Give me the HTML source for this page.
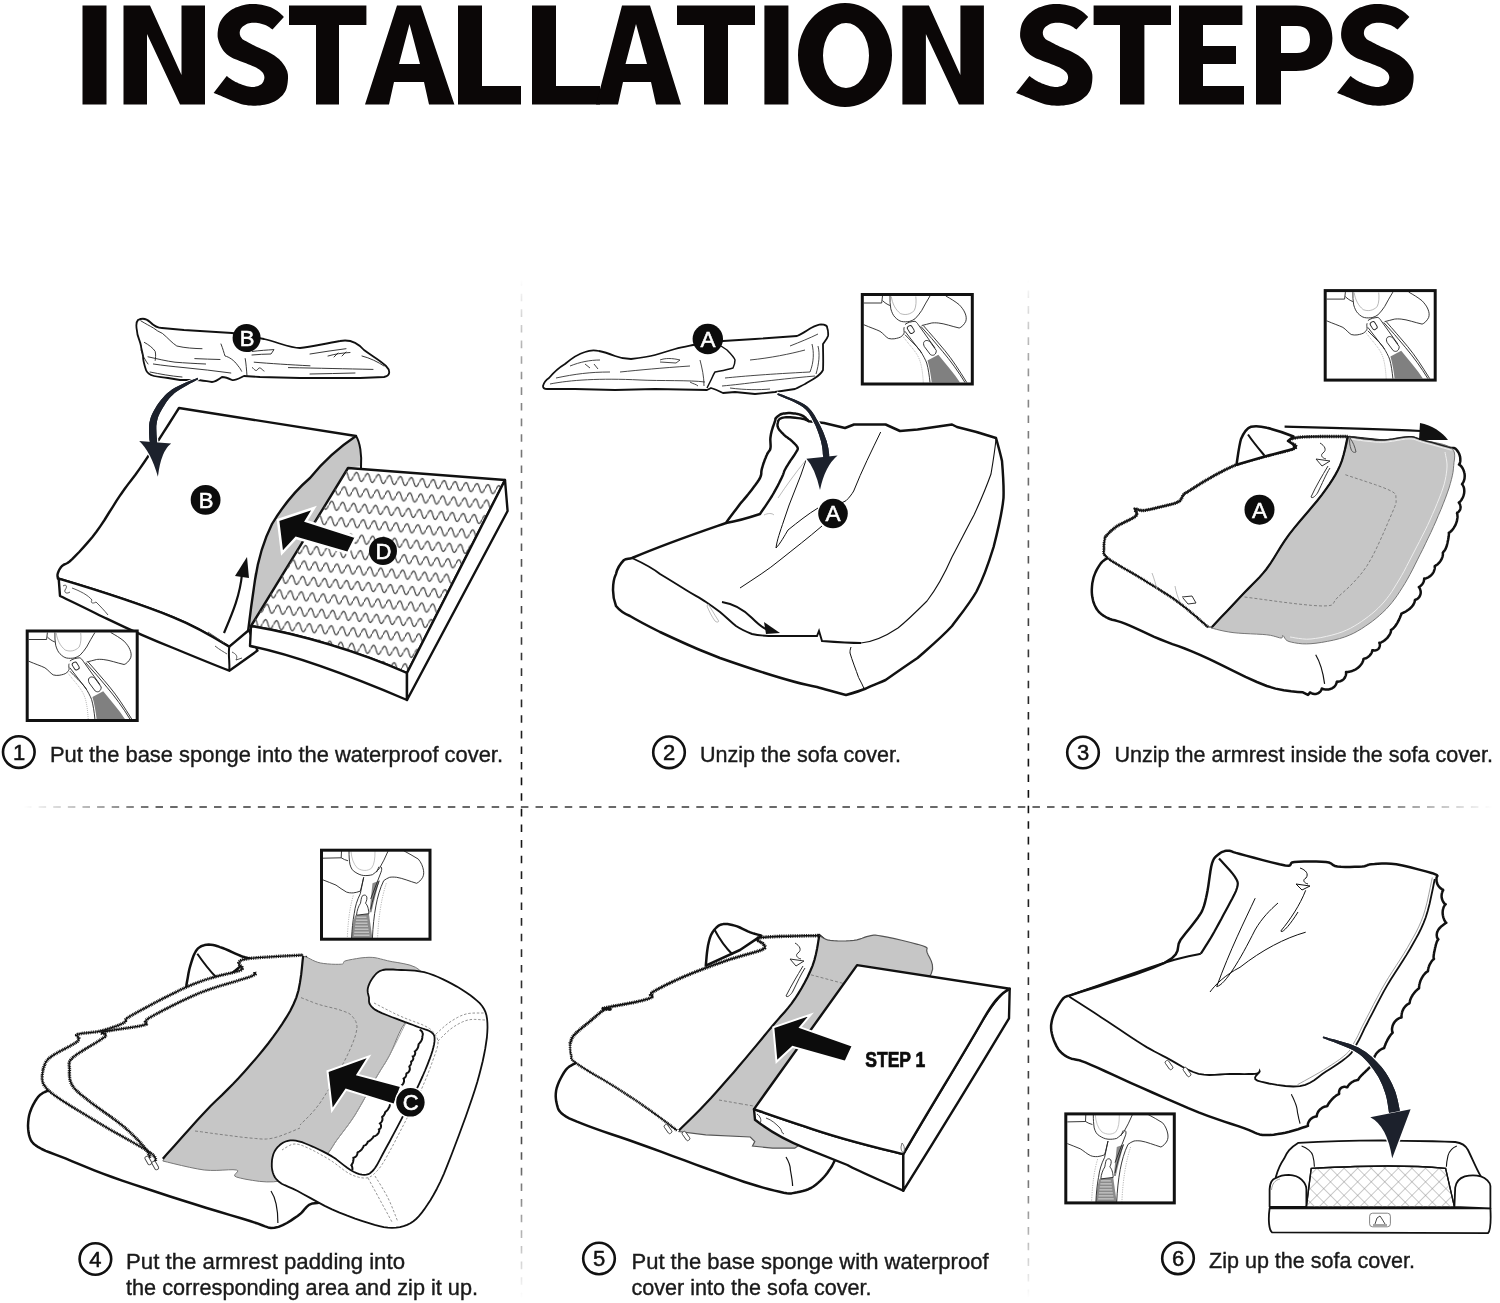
<!DOCTYPE html>
<html><head><meta charset="utf-8"><style>
html,body{margin:0;padding:0;background:#fff;}
body{width:1500px;height:1303px;overflow:hidden;}
svg{display:block;will-change:transform;}
</style></head><body>
<svg width="1500" height="1303" viewBox="0 0 1500 1303">

<defs>
<linearGradient id="gv1" gradientUnits="userSpaceOnUse" x1="0" y1="280" x2="0" y2="1298">
<stop offset="0" stop-color="#000" stop-opacity="0"/><stop offset="0.1" stop-color="#000" stop-opacity="0.45"/>
<stop offset="0.5" stop-color="#000" stop-opacity="0.95"/><stop offset="0.85" stop-color="#000" stop-opacity="0.7"/>
<stop offset="1" stop-color="#000" stop-opacity="0"/></linearGradient>
<linearGradient id="gh" gradientUnits="userSpaceOnUse" x1="24" y1="0" x2="1492" y2="0">
<stop offset="0" stop-color="#222" stop-opacity="0"/><stop offset="0.09" stop-color="#222" stop-opacity="0.9"/>
<stop offset="0.91" stop-color="#222" stop-opacity="0.9"/><stop offset="1" stop-color="#222" stop-opacity="0"/></linearGradient>
</defs>
<line x1="521.5" y1="280" x2="521.5" y2="1298" stroke="url(#gv1)" stroke-width="1.6" stroke-dasharray="7.6 8.01" stroke-dashoffset="1.9"/>
<line x1="1028.4" y1="280" x2="1028.4" y2="1298" stroke="url(#gv1)" stroke-width="1.6" stroke-dasharray="7.6 8.01" stroke-dashoffset="5.1"/>
<line x1="24" y1="807" x2="1492" y2="807" stroke="url(#gh)" stroke-width="1.6" stroke-dasharray="7.5 7.115"/>

<path fill="#0b0707" d="M532 5.5H556V86H600V104.5H532Z"/>
<path fill="#0b0707" fill-rule="evenodd" d="M82.5 5.5H106.5V104.5H82.5Z M123.5 104.5 L123.5 5.5 L150.0 5.5 L181.5 75 L181.5 5.5 L205.0 5.5 L205.0 104.5 L180.0 104.5 L147.0 34 L147.0 104.5Z M289 5.5H366.4V25H339V104.5H316V25H289Z M365 104.5L397 5.5H421L454.4 104.5H429L424 82H394L389 104.5Z M409.5 24L399 64H420Z M458 5.5H482V86H521V104.5H458Z M596 104.5L622 5.5H650L681 104.5H656L651 82H623L618 104.5Z M636 24L625.5 64H647Z M677 5.5H755V25H728V104.5H704V25H677Z M764.4 5.5H788.4V104.5H764.4Z M798 55a47 52 0 1 0 94 0a47 52 0 1 0 -94 0Z M823 55.5a23 32.5 0 1 1 46 0a23 32.5 0 1 1 -46 0Z M902.4 104.5 L902.4 5.5 L928.9 5.5 L960.4 75 L960.4 5.5 L983.9 5.5 L983.9 104.5 L958.9 104.5 L925.9 34 L925.9 104.5Z M1093.6 5.5H1171V25H1144.4V104.5H1120V25H1093.6Z M1179 5.5H1242.4V25H1203V46H1236V64H1203V86H1244V104.5H1179Z M1256 104.5V5.5H1296C1320 5.5 1332.4 20 1332.4 38C1332.4 58 1318 71 1296 71H1281V104.5Z M1281 26V53H1297C1306 53 1310 48 1310 39.5C1310 31 1306 26 1297 26Z"/>
<path fill="#0b0707" d="M283.9,16.9 L272.5,29.6 L271.8,29.1 L270.9,28.4 L269.8,27.6 L268.6,26.8 L267.3,26.0 L265.9,25.3 L264.5,24.8 L262.8,24.2 L261.1,23.8 L259.4,23.3 L257.7,23.0 L256.1,22.8 L254.6,22.7 L253.2,22.7 L251.8,22.8 L250.5,23.0 L249.2,23.3 L247.9,23.6 L246.7,24.1 L245.5,24.7 L244.3,25.4 L243.1,26.2 L242.2,27.0 L241.4,27.9 L240.8,28.8 L240.3,29.7 L240.0,30.8 L239.8,31.8 L239.7,32.8 L239.8,33.8 L239.9,34.7 L240.2,35.6 L240.5,36.5 L241.0,37.3 L241.6,38.1 L242.2,38.9 L242.9,39.5 L243.7,40.0 L244.6,40.5 L245.6,41.0 L246.7,41.6 L247.9,42.2 L249.3,43.0 L250.8,43.8 L252.5,44.7 L254.2,45.5 L256.0,46.4 L257.7,47.3 L259.6,48.1 L261.5,48.9 L263.5,49.7 L265.4,50.6 L267.4,51.4 L269.2,52.4 L271.0,53.4 L272.7,54.4 L274.4,55.5 L276.0,56.7 L277.6,57.9 L279.0,59.1 L280.3,60.4 L281.6,61.8 L282.7,63.2 L283.8,64.7 L284.7,66.1 L285.5,67.6 L286.2,68.9 L286.8,70.2 L287.3,71.5 L287.6,72.9 L287.9,74.4 L288.0,76.0 L288.0,77.9 L287.9,80.1 L287.7,82.3 L287.4,84.6 L286.9,86.8 L286.4,88.7 L285.7,90.4 L284.9,91.9 L284.0,93.3 L283.0,94.7 L281.9,95.9 L280.6,97.1 L279.3,98.3 L277.8,99.4 L276.2,100.5 L274.5,101.4 L272.7,102.3 L270.8,103.0 L268.8,103.7 L266.7,104.3 L264.5,104.7 L262.3,105.1 L260.0,105.4 L257.7,105.6 L255.5,105.7 L253.1,105.7 L250.7,105.6 L248.4,105.4 L246.1,105.1 L243.8,104.7 L241.7,104.2 L239.5,103.6 L237.5,102.8 L235.4,102.0 L233.5,101.2 L231.6,100.5 L229.8,99.8 L228.1,99.1 L226.4,98.3 L224.8,97.6 L223.3,96.9 L221.8,96.3 L220.2,95.6 L218.6,95.0 L217.1,94.3 L215.7,93.7 L214.5,93.3 L213.6,92.9 L226.7,76.0 L227.5,76.6 L228.5,77.4 L229.7,78.3 L231.1,79.3 L232.6,80.2 L234.0,81.1 L235.5,81.9 L237.2,82.6 L238.8,83.4 L240.5,84.1 L242.2,84.8 L243.8,85.3 L245.4,85.8 L246.9,86.2 L248.4,86.6 L249.9,86.8 L251.4,87.0 L252.8,87.0 L254.3,86.9 L255.8,86.6 L257.3,86.2 L258.7,85.7 L259.9,85.1 L261.0,84.5 L261.9,83.7 L262.6,82.7 L263.3,81.7 L263.7,80.6 L264.1,79.6 L264.3,78.5 L264.4,77.6 L264.3,76.5 L264.1,75.5 L263.7,74.5 L263.3,73.6 L262.6,72.6 L261.9,71.7 L261.0,70.9 L260.0,70.0 L258.9,69.2 L257.6,68.4 L256.1,67.6 L254.4,66.7 L252.4,65.9 L250.3,65.0 L248.1,64.2 L246.0,63.3 L243.8,62.5 L241.8,61.7 L239.6,60.9 L237.5,60.1 L235.4,59.2 L233.4,58.4 L231.6,57.4 L229.9,56.4 L228.4,55.4 L227.0,54.4 L225.7,53.2 L224.5,52.0 L223.4,50.7 L222.4,49.2 L221.4,47.5 L220.5,45.7 L219.7,43.9 L219.0,42.2 L218.5,40.5 L218.1,39.1 L217.8,37.7 L217.6,36.3 L217.6,35.0 L217.6,33.6 L217.7,32.1 L217.9,30.5 L218.1,28.8 L218.5,27.0 L218.9,25.3 L219.5,23.6 L220.1,22.0 L221.0,20.4 L221.9,18.9 L223.0,17.5 L224.2,16.1 L225.4,14.8 L226.7,13.5 L228.0,12.4 L229.4,11.3 L230.8,10.2 L232.3,9.3 L234.0,8.4 L235.7,7.6 L237.6,6.9 L239.6,6.2 L241.8,5.5 L243.9,5.0 L246.0,4.6 L247.9,4.2 L249.7,4.0 L251.3,3.9 L252.9,3.9 L254.4,3.9 L256.0,4.0 L257.7,4.2 L259.6,4.5 L261.6,4.8 L263.6,5.2 L265.6,5.7 L267.5,6.2 L269.2,6.8 L270.8,7.3 L272.2,8.0 L273.6,8.7 L274.9,9.4 L276.1,10.2 L277.4,11.0 L278.6,11.9 L279.9,13.0 L281.1,14.2 L282.3,15.3 L283.2,16.2 L283.9,16.9Z M1088.2,16.9 L1076.4,29.6 L1075.7,29.1 L1074.8,28.4 L1073.7,27.6 L1072.5,26.8 L1071.1,26.0 L1069.7,25.3 L1068.2,24.8 L1066.6,24.2 L1064.8,23.8 L1063.0,23.3 L1061.3,23.0 L1059.7,22.8 L1058.1,22.7 L1056.7,22.7 L1055.2,22.8 L1053.9,23.0 L1052.5,23.3 L1051.3,23.6 L1050.0,24.1 L1048.7,24.7 L1047.5,25.4 L1046.3,26.2 L1045.3,27.0 L1044.5,27.9 L1043.9,28.8 L1043.5,29.7 L1043.1,30.8 L1042.9,31.8 L1042.8,32.8 L1042.9,33.8 L1043.0,34.7 L1043.3,35.6 L1043.6,36.5 L1044.1,37.3 L1044.7,38.1 L1045.4,38.9 L1046.1,39.5 L1046.9,40.0 L1047.8,40.5 L1048.9,41.0 L1050.0,41.6 L1051.3,42.2 L1052.7,43.0 L1054.2,43.8 L1055.9,44.7 L1057.7,45.5 L1059.5,46.4 L1061.3,47.3 L1063.2,48.1 L1065.2,48.9 L1067.2,49.7 L1069.2,50.6 L1071.2,51.4 L1073.1,52.4 L1074.9,53.4 L1076.7,54.4 L1078.4,55.5 L1080.1,56.7 L1081.7,57.9 L1083.2,59.1 L1084.5,60.4 L1085.8,61.8 L1087.0,63.2 L1088.1,64.7 L1089.0,66.1 L1089.9,67.6 L1090.6,68.9 L1091.2,70.2 L1091.7,71.5 L1092.0,72.9 L1092.3,74.4 L1092.4,76.0 L1092.4,77.9 L1092.3,80.1 L1092.1,82.3 L1091.7,84.6 L1091.3,86.8 L1090.7,88.7 L1090.0,90.4 L1089.2,91.9 L1088.3,93.3 L1087.3,94.7 L1086.1,95.9 L1084.8,97.1 L1083.4,98.3 L1081.9,99.4 L1080.3,100.5 L1078.5,101.4 L1076.7,102.3 L1074.8,103.0 L1072.7,103.7 L1070.6,104.3 L1068.3,104.7 L1066.0,105.1 L1063.7,105.4 L1061.3,105.6 L1059.0,105.7 L1056.6,105.7 L1054.1,105.6 L1051.7,105.4 L1049.3,105.1 L1047.1,104.7 L1044.8,104.2 L1042.6,103.6 L1040.5,102.8 L1038.4,102.0 L1036.4,101.2 L1034.5,100.5 L1032.6,99.8 L1030.9,99.1 L1029.2,98.3 L1027.5,97.6 L1025.9,96.9 L1024.4,96.3 L1022.8,95.6 L1021.2,95.0 L1019.6,94.3 L1018.1,93.7 L1016.9,93.3 L1016.0,92.9 L1029.4,76.0 L1030.2,76.6 L1031.3,77.4 L1032.6,78.3 L1034.0,79.3 L1035.5,80.2 L1037.0,81.1 L1038.5,81.9 L1040.2,82.6 L1041.9,83.4 L1043.7,84.1 L1045.4,84.8 L1047.1,85.3 L1048.7,85.8 L1050.2,86.2 L1051.8,86.6 L1053.3,86.8 L1054.8,87.0 L1056.3,87.0 L1057.8,86.9 L1059.3,86.6 L1060.9,86.2 L1062.3,85.7 L1063.6,85.1 L1064.7,84.5 L1065.6,83.7 L1066.4,82.7 L1067.0,81.7 L1067.5,80.6 L1067.8,79.6 L1068.0,78.5 L1068.1,77.6 L1068.0,76.5 L1067.8,75.5 L1067.5,74.5 L1067.0,73.6 L1066.4,72.6 L1065.6,71.7 L1064.7,70.9 L1063.7,70.0 L1062.5,69.2 L1061.2,68.4 L1059.7,67.6 L1057.9,66.7 L1055.9,65.9 L1053.7,65.0 L1051.5,64.2 L1049.2,63.3 L1047.1,62.5 L1044.9,61.7 L1042.7,60.9 L1040.5,60.1 L1038.4,59.2 L1036.3,58.4 L1034.5,57.4 L1032.8,56.4 L1031.2,55.4 L1029.8,54.4 L1028.5,53.2 L1027.2,52.0 L1026.1,50.7 L1025.0,49.2 L1024.0,47.5 L1023.1,45.7 L1022.3,43.9 L1021.6,42.2 L1021.0,40.5 L1020.6,39.1 L1020.3,37.7 L1020.1,36.3 L1020.1,35.0 L1020.1,33.6 L1020.2,32.1 L1020.4,30.5 L1020.6,28.8 L1021.0,27.0 L1021.4,25.3 L1022.0,23.6 L1022.7,22.0 L1023.6,20.4 L1024.5,18.9 L1025.7,17.5 L1026.9,16.1 L1028.1,14.8 L1029.4,13.5 L1030.8,12.4 L1032.2,11.3 L1033.7,10.2 L1035.2,9.3 L1036.9,8.4 L1038.7,7.6 L1040.6,6.9 L1042.7,6.2 L1044.9,5.5 L1047.1,5.0 L1049.3,4.6 L1051.3,4.2 L1053.1,4.0 L1054.7,3.9 L1056.3,3.9 L1057.9,3.9 L1059.6,4.0 L1061.3,4.2 L1063.2,4.5 L1065.2,4.8 L1067.3,5.2 L1069.4,5.7 L1071.3,6.2 L1073.1,6.8 L1074.7,7.3 L1076.2,8.0 L1077.6,8.7 L1078.9,9.4 L1080.2,10.2 L1081.5,11.0 L1082.8,11.9 L1084.1,13.0 L1085.4,14.2 L1086.5,15.3 L1087.5,16.2 L1088.2,16.9Z M1409.4,16.9 L1397.6,29.6 L1396.9,29.1 L1396.0,28.4 L1394.9,27.6 L1393.6,26.8 L1392.3,26.0 L1390.9,25.3 L1389.4,24.8 L1387.7,24.2 L1385.9,23.8 L1384.1,23.3 L1382.4,23.0 L1380.8,22.8 L1379.2,22.7 L1377.8,22.7 L1376.3,22.8 L1375.0,23.0 L1373.6,23.3 L1372.3,23.6 L1371.1,24.1 L1369.8,24.7 L1368.6,25.4 L1367.4,26.2 L1366.4,27.0 L1365.6,27.9 L1365.0,28.8 L1364.5,29.7 L1364.2,30.8 L1364.0,31.8 L1363.9,32.8 L1363.9,33.8 L1364.1,34.7 L1364.3,35.6 L1364.7,36.5 L1365.2,37.3 L1365.8,38.1 L1366.5,38.9 L1367.2,39.5 L1368.0,40.0 L1368.9,40.5 L1369.9,41.0 L1371.1,41.6 L1372.3,42.2 L1373.8,43.0 L1375.3,43.8 L1377.0,44.7 L1378.8,45.5 L1380.6,46.4 L1382.4,47.3 L1384.3,48.1 L1386.3,48.9 L1388.3,49.7 L1390.4,50.6 L1392.3,51.4 L1394.2,52.4 L1396.1,53.4 L1397.8,54.4 L1399.6,55.5 L1401.3,56.7 L1402.9,57.9 L1404.3,59.1 L1405.7,60.4 L1407.0,61.8 L1408.2,63.2 L1409.3,64.7 L1410.2,66.1 L1411.1,67.6 L1411.8,68.9 L1412.4,70.2 L1412.9,71.5 L1413.2,72.9 L1413.5,74.4 L1413.6,76.0 L1413.6,77.9 L1413.5,80.1 L1413.3,82.3 L1412.9,84.6 L1412.5,86.8 L1411.9,88.7 L1411.2,90.4 L1410.4,91.9 L1409.5,93.3 L1408.4,94.7 L1407.3,95.9 L1406.0,97.1 L1404.6,98.3 L1403.1,99.4 L1401.4,100.5 L1399.7,101.4 L1397.8,102.3 L1395.9,103.0 L1393.9,103.7 L1391.7,104.3 L1389.4,104.7 L1387.1,105.1 L1384.8,105.4 L1382.4,105.6 L1380.1,105.7 L1377.7,105.7 L1375.2,105.6 L1372.8,105.4 L1370.4,105.1 L1368.1,104.7 L1365.9,104.2 L1363.7,103.6 L1361.6,102.8 L1359.5,102.0 L1357.5,101.2 L1355.5,100.5 L1353.7,99.8 L1351.9,99.1 L1350.2,98.3 L1348.6,97.6 L1347.0,96.9 L1345.4,96.3 L1343.8,95.6 L1342.2,95.0 L1340.6,94.3 L1339.1,93.7 L1337.9,93.3 L1337.0,92.9 L1350.5,76.0 L1351.3,76.6 L1352.3,77.4 L1353.6,78.3 L1355.0,79.3 L1356.5,80.2 L1358.0,81.1 L1359.6,81.9 L1361.3,82.6 L1363.0,83.4 L1364.7,84.1 L1366.5,84.8 L1368.1,85.3 L1369.7,85.8 L1371.3,86.2 L1372.9,86.6 L1374.4,86.8 L1375.9,87.0 L1377.4,87.0 L1378.9,86.9 L1380.5,86.6 L1382.0,86.2 L1383.4,85.7 L1384.7,85.1 L1385.8,84.5 L1386.7,83.7 L1387.5,82.7 L1388.1,81.7 L1388.6,80.6 L1389.0,79.6 L1389.2,78.5 L1389.3,77.6 L1389.2,76.5 L1389.0,75.5 L1388.6,74.5 L1388.1,73.6 L1387.5,72.6 L1386.7,71.7 L1385.8,70.9 L1384.8,70.0 L1383.6,69.2 L1382.3,68.4 L1380.8,67.6 L1379.0,66.7 L1377.0,65.9 L1374.8,65.0 L1372.6,64.2 L1370.3,63.3 L1368.1,62.5 L1366.0,61.7 L1363.8,60.9 L1361.6,60.1 L1359.4,59.2 L1357.4,58.4 L1355.5,57.4 L1353.8,56.4 L1352.3,55.4 L1350.8,54.4 L1349.5,53.2 L1348.3,52.0 L1347.1,50.7 L1346.0,49.2 L1345.0,47.5 L1344.1,45.7 L1343.3,43.9 L1342.6,42.2 L1342.0,40.5 L1341.6,39.1 L1341.3,37.7 L1341.2,36.3 L1341.1,35.0 L1341.1,33.6 L1341.2,32.1 L1341.4,30.5 L1341.6,28.8 L1342.0,27.0 L1342.5,25.3 L1343.0,23.6 L1343.7,22.0 L1344.6,20.4 L1345.6,18.9 L1346.7,17.5 L1347.9,16.1 L1349.1,14.8 L1350.5,13.5 L1351.8,12.4 L1353.2,11.3 L1354.7,10.2 L1356.3,9.3 L1358.0,8.4 L1359.7,7.6 L1361.7,6.9 L1363.8,6.2 L1366.0,5.5 L1368.2,5.0 L1370.4,4.6 L1372.3,4.2 L1374.2,4.0 L1375.8,3.9 L1377.5,3.9 L1379.1,3.9 L1380.7,4.0 L1382.4,4.2 L1384.4,4.5 L1386.4,4.8 L1388.4,5.2 L1390.5,5.7 L1392.4,6.2 L1394.2,6.8 L1395.8,7.3 L1397.3,8.0 L1398.8,8.7 L1400.1,9.4 L1401.4,10.2 L1402.6,11.0 L1403.9,11.9 L1405.3,13.0 L1406.5,14.2 L1407.7,15.3 L1408.7,16.2 L1409.4,16.9Z"/>

<g font-family="Liberation Sans, sans-serif" font-size="22.8" fill="#1a1a1a" stroke="#1a1a1a" stroke-width="0.4">
<text x="50" y="762" textLength="453" lengthAdjust="spacingAndGlyphs">Put the base sponge into the waterproof cover.</text>
<text x="700" y="762" textLength="201" lengthAdjust="spacingAndGlyphs">Unzip the sofa cover.</text>
<text x="1114.5" y="762" textLength="378.5" lengthAdjust="spacingAndGlyphs">Unzip the armrest inside the sofa cover.</text>
<text x="126" y="1269" textLength="279" lengthAdjust="spacingAndGlyphs">Put the armrest padding into</text>
<text x="126" y="1294.5" textLength="352" lengthAdjust="spacingAndGlyphs">the corresponding area and zip it up.</text>
<text x="631.5" y="1269" textLength="357" lengthAdjust="spacingAndGlyphs">Put the base sponge with waterproof</text>
<text x="631.5" y="1294.5" textLength="240" lengthAdjust="spacingAndGlyphs">cover into the sofa cover.</text>
<text x="1209" y="1268.4" textLength="206" lengthAdjust="spacingAndGlyphs">Zip up the sofa cover.</text>
</g>
<g fill="none" stroke="#111" stroke-width="2.6">
<circle cx="18.8" cy="752.1" r="15.8"/><circle cx="669" cy="752.3" r="15.8"/><circle cx="1083" cy="752.5" r="15.8"/>
<circle cx="95.4" cy="1259" r="15.8"/><circle cx="599" cy="1258.5" r="15.8"/><circle cx="1178" cy="1258.3" r="15.8"/>
</g>
<g font-family="Liberation Sans, sans-serif" font-size="22" fill="#111" stroke="#111" stroke-width="0.5" text-anchor="middle">
<text x="19" y="759.5">1</text><text x="669" y="759.5">2</text><text x="1083" y="760">3</text>
<text x="95.4" y="1266.5">4</text><text x="599" y="1266">5</text><text x="1178" y="1266">6</text>
</g>

<!--PANELS--><defs>
<g id="insetA">
<rect x="0" y="0" width="110" height="89.5" fill="#fff"/>
<g fill="none" stroke="#222" stroke-width="0.9" stroke-linejoin="round">
<path d="M1.45,30.2 C8,33 14,35 17.7,36.8 C21,39 23,42 26,43.9 C28,44.5 30,44.5 31.9,44.3 C35,43.8 38,43 39.4,41.8 C41,40 42,39 41.9,37.7 C41.5,35 41.5,34 41.9,32.7"/>
<path d="M1.45,8.5 L19.4,8.5 L20.2,1.5 M20.2,6 C22,8 25,10 27.7,11"/>
<path d="M27.7,1.5 C27.5,6 27.8,10 28.5,14.3 C29.5,18 31,21 32.7,22.7 C35,25 37,26.5 39.4,27 C42,27.5 44.5,27.3 46.9,27 C49,26.5 51,25.5 52.7,24.3 C55,22 57.5,19 59.4,16 C62,11 65,6 67.7,1.5"/>
<path d="M83.5,1.5 C88,4 93,7 96.9,10.2 C99.5,13 101.5,15.5 102.7,18.5 C104,21.5 104.3,24 103.5,26.8 C102,30 99,33 96.9,33.5 C90,32 82,29 76,28.5 C73,28.2 71,28.3 69.4,28.5 C66,29.3 62,30.5 59.4,31"/>
<path d="M42.7,30 C45,28 49,27 52.7,26.8 C54,27.5 55,28.5 56,30.2 L72.7,53.5 M42.7,36.8 L59.4,58.5"/>
<rect x="46" y="31" width="5" height="8" rx="2" transform="rotate(-32 48.5 35)"/>
<path d="M62,47 C64,45 67,46 69,49 L74,56 C74,60 71,62 68,60 L62,52 C61,50 61,48 62,47 Z"/>
<path d="M42.7,40.2 C48,46 54,51 57.7,56 C61,61 63,65 64.4,68.5 C66,74 67,81 67.7,88"/>
<path d="M58.5,31.8 C66,40 73,48 80.2,56.8 C88,66 96,77 102.7,88 M61,31 C68,39 75,47 82.5,56 C90,65 97,76 104.5,88"/>
</g>
<g fill="none" stroke="#999" stroke-width="0.7">
<path d="M29,2 C30,9 33,15 38,19 C43,21 48,20 52,16 C54,12 54,6 53.5,2"/>
<path d="M40,41 C45,48 50,53 54,59 C58,65 60,72 61,88" stroke-dasharray="1 1"/>
</g>
<path fill="#808080" d="M65.2,66 L76,60.2 C84,70 92,79 97.7,88 L69.4,88 C68.5,80 67,72 65.2,66 Z"/>
<rect x="0" y="0" width="110" height="89.5" fill="none" stroke="#111" stroke-width="3"/>
</g>
<g id="insetB">
<rect x="0" y="0" width="108.5" height="89" fill="#fff"/>
<g fill="none" stroke="#999" stroke-width="0.7" stroke-dasharray="1.2 1.2">
<path d="M31.8,45.3 C28,58 26.5,72 25.8,88"/>
<path d="M64.8,33.1 C60,48 57,66 56.1,88"/>
</g>
<path fill="#8a8a8a" d="M33.6,65.2 L47.4,63.5 L50.9,88 L30.1,88 C30.5,80 31.5,72 33.6,65.2 Z"/>
<path fill="#8a8a8a" d="M51,33 L57.8,30.5 C55,42 52,52 50,62 L48,62 C49,52 50,42 51,33 Z"/>
<g stroke="#eee" stroke-width="0.8">
<path d="M35,67 H45 M34.5,70 H46 M34,73 H46 M33.6,76 H46.5 M33.2,79 H47 M32.8,82 H47.5 M32.4,85 H48"/>
</g>
<g fill="none" stroke="#222" stroke-width="0.9" stroke-linejoin="round">
<path d="M1.5,8 L19.7,7.6 L20,0.5 M19.7,7.6 C22,9 24,10 26.6,10.6"/>
<path d="M27.5,0.5 C27.5,6 27.8,10 28.4,14 C29.5,18 31,20.5 33.6,21.9 C36,23.5 39,25 42.2,25.3 C45,25.5 48,25.3 50.9,24.5 C53,23 55.5,21 57.8,18.4 C61,13 64,7 66.5,1"/>
<path d="M1.5,29.7 C6,31.5 10,33 14.5,34.9 C18,37 21,40 24.9,41.8 C27,42.6 29,42.8 31.8,42.7 C34,42.5 36.5,41.8 38.8,40.9 C40,37 41,32 42.2,27.1"/>
<path d="M82.1,0.5 C87,3 92,6 96.8,8.9 C99.5,12 101.3,16 102,20.1 C102.4,23 102.2,25 101.2,27.1 C99.5,30 97.5,32 95.1,33.1 C88,31 81,28 75.2,27.1 C72.5,26.8 70,26.8 68.2,27.1 C66,28 64,29 62.2,30.5"/>
<path d="M42.2,27.1 L38.8,43.5 M59.6,16.7 C60.5,18 60.3,20 59.5,22 L49.2,48.7 M57.5,16.5 L55,22"/>
<path d="M38.8,43.5 C35.5,50 33.7,56 32.7,63.5 C31.3,71 30.5,79 30.1,88"/>
<path d="M62.2,30.5 C58.5,38 56,47 54.4,55.7 C52.5,66 51.5,76 50.9,88"/>
<path d="M57.8,30.5 C54,40 51,50 49.2,59.1"/>
<path d="M40.5,46.1 C42,44.5 44,44.5 45,46 C46,48 45,51 44,53 C46,55 47,58 47.4,63.5 L35,65 C35.5,60 37,56 39,53 C39.5,50 39.8,48 40.5,46.1 Z"/>
</g>
<path fill="none" stroke="#aaa" stroke-width="0.7" d="M29.5,1 C30,8 32,14 36,18 C41,21 46,21 50,18 C53,14 53.5,8 53.5,1"/>
<rect x="0" y="0" width="108.5" height="89" fill="none" stroke="#111" stroke-width="3"/>
</g>
</defs>
<g id="p1">
<!-- crumpled cover -->
<path fill="#fff" stroke="#111" stroke-width="1.8" stroke-linejoin="round" d="M138,320 C142,318 146,318 150,322 C154,326 157,328 162,328 L184,330 L232,333 L264,339 C280,343 290,348 300,348 C312,347 322,344 340,341 C350,339 357,342 364,350 C372,356 380,360 386,366 C391,371 390,376 384,377 L360,378 L300,378 L260,377 L244,376 C238,379 235,381 232,380 C228,378 225,377 222,377 C218,380 215,382 212,382 C205,381 200,380 196,380 L180,380 L168,378 C162,377 158,377 154,376 C150,375 147,373 146,370 C144,364 143,360 143,356 C142,350 141,348 141,346 C140,340 137,336 137,331 C136,326 136,322 138,320 Z"/>
<g fill="none" stroke="#222" stroke-width="0.9" stroke-linecap="round">
<path d="M140.8,320.8 C146,324 150,326 153.4,328 C156,330 159,332 162.4,333.4 C168,338 172,343 176.8,346 C185,348 194,348.5 202,348.7"/>
<path d="M144.4,342.4 C149,345 153,348 155.2,351.4 C156,355 155.5,358 155.2,360.4"/>
<path d="M141,350 C143,356 145,360 148,364"/>
<path d="M148,356.8 C158,359 166,361 175,362.2 C185,363 195,363.5 205.6,364"/>
<path d="M153.4,364 C163,365.5 173,366.5 184,367.6 C200,369 215,371 230.8,373"/>
<path d="M194.8,358.6 C203,359 212,359.3 220,359.5"/>
<path d="M150,372 C160,374 170,376 182,377"/>
<path d="M221,344 C223,349 224,353 225,356 C229,357 234,360 238,365.8 C240,368 241,370 241.6,371.2"/>
<path d="M245.2,358.6 C246,363 246.5,369 247,376"/>
<path d="M252.4,351.4 C260,350.5 267,350 274,349.6 L271,354 C265,354 258,354.5 252,355"/>
<path d="M254.2,362.2 C270,363.5 290,364.8 310,365.8"/>
<path d="M310,354 C322,352 334,350.3 346,348.7"/>
<path d="M328,356 C335,354 342,353 350,352.5 M334,357 L338,353 M342,356 L346,352"/>
<path d="M288.4,367.6 C320,368.2 345,368.8 373,369.4"/>
<path d="M310,374 C325,373.7 340,373.4 355,373"/>
<path d="M252.4,367.6 C255,370 256,372 258,369 C260,366 262,370 264,371"/>
<path d="M362,356 C370,358 378,362 384,366"/>
</g>
<!-- gray opening -->
<path fill="#c6c6c6" d="M356,436 C344,444 326,458 310,478 C296,490 284,504 272,524 C264,540 258,560 255,580 C252,600 250,615 248,632 L251,626 L348,468 L361,466 C361,455 360,444 356,436 Z"/>
<!-- cover box -->
<path fill="#fff" stroke="#111" stroke-width="2.4" stroke-linejoin="round" d="M179,408 L356,436 C344,444 326,458 310,478 C296,490 284,504 272,524 C264,540 258,560 255,580 C252,600 250,615 248,632 C244,636 236,642 229.3,646.7 C212,636 195,626 173.3,617.3 C140,604 90,588 58.7,578.7 L57.9,578.5 57.8,577.7 57.6,576.8 57.5,575.8 57.5,574.8 57.7,573.7 58.1,572.5 58.6,571.3 59.2,569.9 60.0,568.6 60.9,567.3 62.0,566.0 63.2,565.1 64.4,564.4 65.9,563.8 67.5,563.0 69.6,561.5 72.2,559.2 75.4,555.9 79.2,552.0 83.4,547.4 87.8,542.4 92.2,537.2 96.4,531.8 100.4,526.1 104.5,520.0 108.5,513.5 112.6,507.1 116.6,500.7 120.6,494.7 124.4,489.3 128.0,484.4 131.6,479.7 135.4,474.7 139.4,469.1 144.0,462.5 149.6,454.1 156.1,444.0 163.0,433.2 169.5,423.0 175.1,414.2 179.0,408.0 Z"/>
<path fill="#fff" stroke="#111" stroke-width="2.4" stroke-linejoin="round" d="M58.7,578.7 L60,596 C75,603 95,613 106.7,618.7 C130,630 150,639 173.3,648 C195,657 212,664 229.3,670.7 L257.5,650.6 L249,630 L229.3,646.7 C212,636 195,626 173.3,617.3 C140,604 90,588 58.7,578.7 Z"/>
<path fill="none" stroke="#111" stroke-width="2" d="M229.3,646.7 C228,655 230,662 229.3,670.7"/>
<path fill="none" stroke="#111" stroke-width="2" d="M356,436 C360,442 362,455 361,468"/>
<g fill="none" stroke="#444" stroke-width="0.9">
<path d="M63,586 C66,584 68,586 65,590 C64,593 67,594 70,592 M72,588 C80,591 88,595 92,600 C90,603 93,604 96,602 C100,606 104,610 108,615 M208,632 C214,636 220,640 224,643 M215,646 C220,650 224,652 227,654 M232,652 C236,654 238,656 236,660 L242,658"/>
</g>
<!-- curved arrow -->
<g fill="#1c212c" stroke="#fff" stroke-width="2.5" paint-order="stroke">
<path d="M197.6,377.8 L195.6,378.7 L192.8,379.8 L189.5,381.1 L185.8,382.6 L182.1,384.2 L178.4,385.9 L174.9,387.7 L172.0,389.5 L169.5,391.4 L167.2,393.3 L165.1,395.3 L163.2,397.4 L161.4,399.5 L159.8,401.6 L158.3,403.6 L156.9,405.6 L155.6,407.7 L154.4,409.7 L153.3,411.7 L152.3,413.7 L151.4,415.8 L150.6,418.0 L150.0,420.3 L149.4,422.8 L149.1,425.6 L149.0,428.6 L149.0,431.7 L149.2,434.9 L149.3,437.8 L149.5,440.5 L149.7,442.6 L149.8,444.2 L157.2,443.8 L157.1,442.1 L157.0,439.9 L156.7,437.3 L156.5,434.4 L156.4,431.5 L156.3,428.7 L156.3,426.0 L156.6,423.8 L156.9,421.8 L157.3,419.9 L157.8,418.1 L158.4,416.3 L159.2,414.5 L160.0,412.7 L161.0,410.9 L162.1,409.0 L163.3,406.9 L164.6,404.9 L165.9,402.8 L167.4,400.8 L168.9,398.8 L170.7,396.8 L172.6,394.9 L174.6,393.1 L177.1,391.2 L180.2,389.2 L183.6,387.2 L187.1,385.2 L190.5,383.3 L193.7,381.7 L196.3,380.2 L198.2,379.2 Z"/>
<path d="M139.2,440.9 L171.2,443.6 Q161,451 157.9,476.7 Q151,452 139.2,440.9 Z"/>
</g>
<path fill="#1c212c" d="M197.6,377.8 L195.6,378.7 L192.8,379.8 L189.5,381.1 L185.8,382.6 L182.1,384.2 L178.4,385.9 L174.9,387.7 L172.0,389.5 L169.5,391.4 L167.2,393.3 L165.1,395.3 L163.2,397.4 L161.4,399.5 L159.8,401.6 L158.3,403.6 L156.9,405.6 L155.6,407.7 L154.4,409.7 L153.3,411.7 L152.3,413.7 L151.4,415.8 L150.6,418.0 L150.0,420.3 L149.4,422.8 L149.1,425.6 L149.0,428.6 L149.0,431.7 L149.2,434.9 L149.3,437.8 L149.5,440.5 L149.7,442.6 L149.8,444.2 L157.2,443.8 L157.1,442.1 L157.0,439.9 L156.7,437.3 L156.5,434.4 L156.4,431.5 L156.3,428.7 L156.3,426.0 L156.6,423.8 L156.9,421.8 L157.3,419.9 L157.8,418.1 L158.4,416.3 L159.2,414.5 L160.0,412.7 L161.0,410.9 L162.1,409.0 L163.3,406.9 L164.6,404.9 L165.9,402.8 L167.4,400.8 L168.9,398.8 L170.7,396.8 L172.6,394.9 L174.6,393.1 L177.1,391.2 L180.2,389.2 L183.6,387.2 L187.1,385.2 L190.5,383.3 L193.7,381.7 L196.3,380.2 L198.2,379.2 Z"/>
<!-- sponge -->
<defs>
<clipPath id="c1sp"><path d="M348,468 L505,480 L407,673 C360,652 300,634 251,626 Z"/></clipPath>
<pattern id="zz1" patternUnits="userSpaceOnUse" width="11" height="15.5" patternTransform="rotate(5.3)">
<path d="M0.00,7.75 L0.55,6.42 L1.10,5.22 L1.65,4.27 L2.20,3.66 L2.75,3.45 L3.30,3.66 L3.85,4.27 L4.40,5.22 L4.95,6.42 L5.50,7.75 L6.05,9.08 L6.60,10.28 L7.15,11.23 L7.70,11.84 L8.25,12.05 L8.80,11.84 L9.35,11.23 L9.90,10.28 L10.45,9.08 L11.00,7.75" fill="none" stroke="#4a4a4a" stroke-width="1.25"/>
</pattern>
</defs>
<path fill="#fff" stroke="#111" stroke-width="2.4" stroke-linejoin="round" d="M348,468 L505,480 L407,673 C360,652 300,634 251,626 Z"/>
<rect x="240" y="460" width="280" height="230" fill="url(#zz1)" clip-path="url(#c1sp)"/>
<path fill="#fff" stroke="#111" stroke-width="2.4" stroke-linejoin="round" d="M251,626 C300,634 360,652 407,673 L407,700 C360,680 300,656 250,646 Z"/>
<path fill="#fff" stroke="#111" stroke-width="2.4" stroke-linejoin="round" d="M505,480 L507.6,511 L407,700 L407,673 Z"/>
<!-- arrow D -->
<path fill="#0c0c0c" stroke="#fff" stroke-width="2.5" stroke-linejoin="miter" d="M278,520 L314,508 L306,521 L356,537 L348,553 L296,538 L282,553 Z"/>
<!-- small up arrow -->
<path fill="none" stroke="#111" stroke-width="2.2" d="M224,633 C232,614 240,596 242,574"/>
<path fill="#111" d="M235,576 L249,578 L247,557 Z"/>
<!-- labels -->
<circle cx="246.6" cy="338" r="14" fill="#0c0c0c"/>
<circle cx="205.6" cy="499.9" r="14.9" fill="#0c0c0c"/>
<circle cx="383" cy="551" r="14" fill="#0c0c0c"/>
<g font-family="Liberation Sans, sans-serif" font-size="22" fill="#fff" stroke="#fff" stroke-width="0.6" text-anchor="middle">
<text x="247" y="345.8">B</text><text x="206" y="507.6">B</text><text x="383.5" y="558.8">D</text>
</g>
<!-- inset -->
<use href="#insetA" x="27.2" y="631"/>
</g>
<g id="p2">
<!-- crumpled cover A -->
<path fill="#fff" stroke="#111" stroke-width="1.8" stroke-linejoin="round" d="M543,386 C544,382 546,380 549,378 C554,372 560,367 565,364 C572,358 578,354 585,352 C590,350 595,350 599,351 C605,352 610,354 615,356 C620,358 626,359 631,359 C640,358 648,357 655,355 C662,353 668,351 675,349 C682,347 688,346 693,345 L723,341 L755,339 L797,336 C802,334 806,331 811,328 C815,326 818,324.5 821,324.4 C825,324.5 827,326 827,327 C828,330 828.5,333 828,336 C827,339 825,341 823,344 C823,352 823.5,362 823,370 C821,374 818,376 815,378 C812,380 808,382 805,384 C801,386 798,388 795,389 C788,390 782,391 775,392 L755,394 L735,392 L723,393 C719,391 715,389 711,388 L707,390 L655,389 L615,390 L575,389 L547,389 C544,389 543,388 543,386 Z"/>
<path fill="#fff" stroke="#111" stroke-width="1.5" stroke-linejoin="round" d="M721,346 L727,350 C731,354 734,357 735,360 C735,364 734,366 733,368 C727,370 720,371 715,372 C713,375 712,378 711,380 L707,388"/>
<g fill="none" stroke="#333" stroke-width="0.9">
<path d="M550,384 C570,380 600,378 640,380 C660,381 690,380 705,382"/>
<path d="M556,378 C575,374 590,372 610,372 M570,366 C580,362 590,360 600,360 M585,364 L590,368 M594,364 L598,369"/>
<path d="M620,372 C640,370 660,368 690,366 M660,360 C665,358 672,358 680,360 L676,363 L660,362"/>
<path d="M700,360 C702,368 704,376 704,386 M690,382 C693,384 696,384 698,386"/>
<path d="M725,378 C745,376 770,374 810,372 M722,386 C745,384 770,380 815,376"/>
<path d="M750,360 C770,358 790,354 805,350 M790,346 C800,342 810,338 818,334"/>
<path d="M812,344 C814,352 814,362 810,372 M818,346 C820,354 819,364 816,374"/>
<path d="M730,388 C745,390 760,390 770,389"/>
</g>
<!-- sofa cover -->
<path fill="#fff" stroke="#111" stroke-width="2.5" stroke-linejoin="round" d="M808.8,421.2 L808.1,420.6 L807.3,419.6 L806.2,418.6 L805.1,417.4 L803.8,416.4 L802.4,415.6 L800.9,415.0 L799.2,414.4 L797.5,414.0 L795.6,413.6 L793.8,413.4 L792.0,413.2 L790.2,413.1 L788.4,413.1 L786.5,413.2 L784.7,413.4 L783.1,413.6 L781.6,414.0 L780.3,414.5 L779.2,415.2 L778.2,415.9 L777.3,416.7 L776.6,417.4 L776.0,418.0 L775.6,418.4 L775.5,418.7 L775.4,418.9 L775.5,419.1 L775.4,419.6 L775.2,420.4 L774.8,421.6 L774.3,423.1 L773.7,424.8 L773.0,426.7 L772.5,428.4 L772.0,430.0 L771.6,431.4 L771.3,432.7 L771.0,433.9 L770.8,435.2 L770.6,436.5 L770.4,438.0 L770.3,439.6 L770.4,441.5 L770.5,443.4 L770.6,445.2 L770.6,446.9 L770.4,448.4 L770.1,449.6 L769.6,450.5 L769.0,451.3 L768.4,452.1 L767.8,453.0 L767.2,454.0 L766.7,455.2 L766.1,456.5 L765.6,457.9 L765.0,459.2 L764.5,460.6 L764.0,462.0 L763.5,463.3 L763.1,464.7 L762.7,466.0 L762.3,467.3 L761.9,468.7 L761.6,470.0 L761.4,471.3 L761.3,472.4 L761.3,473.6 L761.1,474.9 L760.7,476.3 L760.0,478.0 L758.8,480.0 L757.3,482.3 L755.5,484.8 L753.6,487.3 L751.8,489.7 L750.0,492.0 L748.2,494.3 L746.3,496.6 L744.4,498.9 L742.6,501.0 L741.1,502.7 L740.0,504.0 C735,511 730,517 726,523 C700,532 670,542 632,558 C628,559 626,559 624,560 C620,564 617,569 616,574 C613,580 613,585 613,590 C613,596 614,601 616,606 C620,611 625,614 630,616 C640,622 650,627 660,632 C675,639 688,645 700,650 C710,654 715,656 720,658 C760,672 800,684 817,687 C828,690 838,693 846,695 C853,693 860,691 866,688.5 C873,685 879,683 885.6,680 C897,672 907,665 917.5,658 C930,647 942,637 952,626 C961,614 970,603 976.5,591.5 C984,577 989,562 993.6,547 C998,530 1002,514 1003.5,498 C1004,485 1003,473 1002,461 C1000,452 998,445 996,438 C984,434 970,430 957,427 L952,424.5 L917.5,429.5 L900,431 L885.6,424.5 L854,424.5 L845,428 L824,423 L808.8,421.2 Z"/>
<!-- armrest inner loop -->
<path fill="none" stroke="#111" stroke-width="2.4" stroke-linejoin="round" d="M808.8,421.2 L808.2,420.9 L807.4,420.5 L806.5,420.1 L805.4,419.6 L804.0,419.2 L802.4,418.8 L800.4,418.4 L798.0,418.1 L795.3,417.8 L792.6,417.5 L790.1,417.3 L788.0,417.2 L786.2,417.2 L784.7,417.4 L783.2,417.6 L782.0,417.9 L780.9,418.3 L780.0,418.8 L779.2,419.4 L778.7,420.2 L778.2,421.0 L778.0,421.9 L777.8,422.8 L777.6,423.6 L777.5,424.4 L777.5,425.1 L777.5,425.9 L777.7,426.7 L778.0,427.5 L778.4,428.4 L779.0,429.4 L779.8,430.4 L780.8,431.5 L781.8,432.6 L782.9,433.7 L784.0,434.8 L785.2,435.9 L786.6,436.9 L788.0,438.0 L789.4,439.1 L790.8,440.1 L792.0,441.2 L793.2,442.3 L794.3,443.4 L795.4,444.5 L796.4,445.6 L797.1,446.6 L797.6,447.6 L797.8,448.4 L797.8,449.1 L797.5,449.8 L797.2,450.5 L796.6,451.3 L796.0,452.4 L795.2,453.7 L794.2,455.3 L793.0,457.0 L791.8,458.7 L790.6,460.4 L789.6,462.0 L788.7,463.4 L787.8,464.8 L787.0,466.1 L786.2,467.4 L785.5,468.7 L784.8,470.0 L784.2,471.2 L783.9,472.3 L783.5,473.4 L783.1,474.6 L782.5,476.1 L781.6,478.0 L780.4,480.4 L779.0,483.3 L777.4,486.4 L775.6,489.6 L773.8,492.9 L772.0,496.0 L770.0,499.2 L767.7,502.7 L765.4,506.1 L763.2,509.3 L761.3,512.0 L760.0,514.0 C748,518 738,521 726,523"/>
<path fill="none" stroke="#111" stroke-width="1.9" d="M632,558 C645,564 655,570 660,574 C670,580 678,585 686,590 C694,595 700,598 706,602 C712,606 716,609 720,612 C726,617 731,622 736,626 C742,630 747,632 752,634 C760,636 768,636 776,636 L817,636 L819,631 L822,641 C835,642 848,643 861,643"/>
<path fill="none" stroke="#111" stroke-width="1.1" d="M861,643 C873,642 886,636 898,628 C908,620 918,610 927,601 C937,588 945,573 952,557 C960,542 967,528 974,515 C980,502 986,488 991,474 C993,462 995,450 996,439"/>
<g fill="none" stroke="#111" stroke-width="1">

<path d="M851,647 C850,650 850,651 850,653 C852,660 856,670 858.6,677.5 C861,682 863,686 864.7,690"/>
<path d="M880.7,432 C872,450 862,470 853.7,491 C852,494 849,498 846,500.7 C842,503 838,504 834,505.6"/>
<path d="M822,526 C808,538 795,548 780,560 C768,570 755,578 740,588"/>
<path d="M806,460 C800,480 790,500 784,520 C780,532 777,540 776,548 C780,544 785,535 788,530 C798,522 808,514 818,508"/>
</g>
<g fill="none" stroke="#aaa" stroke-width="0.8">
<path d="M778,498 C786,486 796,472 806,460"/>
<path d="M764,515 C768,513 772,513 774,515"/>
<path d="M708,604 C711,608 714,614 718,620 C720,622 717,623 715,621 C712,617 709,611 707,606 Z"/>
</g>
<!-- small arrow -->
<path fill="none" stroke="#111" stroke-width="2" d="M722,602 C735,604 746,612 752,618 C758,624 762,628 768,630"/>
<path fill="#111" d="M764,622 L780,633 L766,634 Z"/>
<!-- curved arrow -->
<g fill="#1c212c" stroke="#fff" stroke-width="2.5" paint-order="stroke">
<path d="M777.3,394.8 L779.4,395.8 L782.3,397.0 L785.8,398.5 L789.6,400.1 L793.5,401.8 L797.2,403.7 L800.5,405.5 L803.1,407.2 L805.2,409.0 L806.9,410.7 L808.4,412.6 L809.7,414.5 L810.9,416.5 L812.0,418.5 L813.1,420.7 L814.2,422.9 L815.4,425.3 L816.4,427.7 L817.4,430.3 L818.4,432.9 L819.3,435.5 L820.0,438.0 L820.8,440.5 L821.3,442.7 L821.8,444.9 L822.2,447.2 L822.5,449.4 L822.7,451.6 L822.8,453.7 L823.0,455.5 L823.1,457.1 L823.2,458.4 L829.6,457.6 L829.4,456.4 L829.2,454.9 L829.0,453.0 L828.7,450.9 L828.4,448.6 L827.9,446.2 L827.3,443.7 L826.7,441.3 L825.8,438.9 L824.9,436.4 L823.9,433.8 L822.8,431.1 L821.6,428.5 L820.4,425.9 L819.1,423.4 L817.8,421.1 L816.5,418.9 L815.3,416.7 L814.0,414.6 L812.6,412.5 L811.1,410.5 L809.3,408.5 L807.3,406.6 L804.9,404.8 L801.9,403.0 L798.4,401.2 L794.5,399.5 L790.5,397.9 L786.6,396.4 L783.1,395.1 L780.1,394.0 L777.9,393.2 Z"/>
<path d="M806.4,458.8 L837.6,455.6 Q825,466 820,490 Q815,468 806.4,458.8 Z"/>
</g>
<path fill="#1c212c" d="M777.3,394.8 L779.4,395.8 L782.3,397.0 L785.8,398.5 L789.6,400.1 L793.5,401.8 L797.2,403.7 L800.5,405.5 L803.1,407.2 L805.2,409.0 L806.9,410.7 L808.4,412.6 L809.7,414.5 L810.9,416.5 L812.0,418.5 L813.1,420.7 L814.2,422.9 L815.4,425.3 L816.4,427.7 L817.4,430.3 L818.4,432.9 L819.3,435.5 L820.0,438.0 L820.8,440.5 L821.3,442.7 L821.8,444.9 L822.2,447.2 L822.5,449.4 L822.7,451.6 L822.8,453.7 L823.0,455.5 L823.1,457.1 L823.2,458.4 L829.6,457.6 L829.4,456.4 L829.2,454.9 L829.0,453.0 L828.7,450.9 L828.4,448.6 L827.9,446.2 L827.3,443.7 L826.7,441.3 L825.8,438.9 L824.9,436.4 L823.9,433.8 L822.8,431.1 L821.6,428.5 L820.4,425.9 L819.1,423.4 L817.8,421.1 L816.5,418.9 L815.3,416.7 L814.0,414.6 L812.6,412.5 L811.1,410.5 L809.3,408.5 L807.3,406.6 L804.9,404.8 L801.9,403.0 L798.4,401.2 L794.5,399.5 L790.5,397.9 L786.6,396.4 L783.1,395.1 L780.1,394.0 L777.9,393.2 Z"/>
<!-- labels -->
<circle cx="707.8" cy="339" r="15.2" fill="#0c0c0c"/>
<circle cx="833" cy="513.5" r="14.8" fill="#0c0c0c"/>
<g font-family="Liberation Sans, sans-serif" font-size="22.5" fill="#fff" stroke="#fff" stroke-width="0.5" text-anchor="middle">
<text x="708" y="347.2">A</text><text x="833" y="521.4">A</text>
</g>
<use href="#insetA" x="862.3" y="294.5"/>
</g>
<g id="p3">
<path fill="#fff" stroke="#111" stroke-width="2.5" stroke-linejoin="round" d="M1453.7,448.0 L1454.7,448.3 1455.4,448.7 1455.9,449.2 1456.4,449.7 1456.8,450.1 1457.2,450.6 1457.6,451.1 1457.9,451.7 1458.3,452.2 1458.6,452.7 1458.9,453.3 1459.1,453.8 1459.3,454.4 1459.6,455.0 1459.7,455.5 1459.9,456.1 1460.0,456.7 1460.2,457.3 1460.2,457.9 1460.3,458.5 1460.3,459.2 1460.3,459.8 1460.3,460.5 1460.3,461.1 1460.2,461.8 1460.0,462.4 1459.9,463.1 1459.6,463.8 1459.0,464.6 1459.8,465.0 1460.4,465.5 1460.9,466.0 1461.4,466.5 1461.8,467.1 1462.2,467.6 1462.5,468.2 1462.8,468.7 1463.1,469.3 1463.4,469.9 1463.6,470.4 1463.8,471.0 1464.0,471.6 1464.2,472.2 1464.3,472.8 1464.5,473.4 1464.6,474.1 1464.6,474.7 1464.7,475.3 1464.7,475.9 1464.7,476.6 1464.6,477.2 1464.6,477.9 1464.5,478.5 1464.4,479.1 1464.2,479.8 1464.0,480.5 1463.8,481.1 1463.5,481.7 1463.2,482.4 1462.8,483.0 1462.3,483.6 1462.0,484.2 1462.6,484.8 1463.0,485.5 1463.3,486.2 1463.6,486.8 1463.8,487.5 1464.0,488.1 1464.1,488.8 1464.2,489.5 1464.2,490.1 1464.3,490.8 1464.3,491.4 1464.2,492.1 1464.2,492.7 1464.1,493.3 1464.0,493.9 1463.8,494.5 1463.7,495.1 1463.5,495.7 1463.3,496.2 1463.1,496.8 1462.9,497.3 1462.6,497.9 1462.3,498.4 1462.0,498.9 1461.7,499.5 1461.4,500.0 1461.0,500.5 1460.6,501.0 1460.1,501.6 1459.6,502.1 1458.8,502.6 1459.3,503.3 1459.7,503.9 1460.0,504.6 1460.3,505.2 1460.4,505.9 1460.5,506.5 1460.6,507.1 1460.5,507.7 1460.4,508.4 1460.3,509.0 1460.1,509.6 1459.8,510.2 1459.4,510.7 1459.0,511.3 1458.5,511.8 1458.0,512.3 1457.2,512.7 1457.0,513.3 1457.2,514.0 1457.4,514.7 1457.4,515.4 1457.5,516.0 1457.5,516.7 1457.5,517.3 1457.4,518.0 1457.3,518.6 1457.2,519.2 1457.1,519.8 1457.0,520.5 1456.9,521.0 1456.7,521.6 1456.5,522.2 1456.3,522.8 1456.1,523.4 1455.9,523.9 1455.6,524.5 1455.4,525.1 1455.1,525.6 1454.8,526.1 1454.5,526.7 1454.2,527.2 1453.9,527.7 1453.6,528.2 1453.2,528.7 1452.8,529.2 1452.5,529.7 1452.1,530.2 1451.6,530.6 1451.2,531.1 1450.7,531.5 1450.2,532.0 1449.6,532.4 1448.8,532.7 1448.9,533.4 1448.9,534.0 1448.9,534.7 1448.8,535.3 1448.8,535.9 1448.7,536.5 1448.6,537.1 1448.5,537.6 1448.4,538.2 1448.3,538.8 1448.2,539.4 1448.1,539.9 1448.0,540.5 1447.8,541.1 1447.7,541.6 1447.6,542.2 1447.5,542.8 1447.4,543.3 1447.2,543.9 1447.1,544.5 1446.9,545.1 1446.8,545.7 1446.6,546.2 1446.4,546.8 1446.2,547.4 1445.9,548.0 1445.7,548.6 1445.4,549.2 1445.1,549.7 1444.7,550.3 1444.4,550.8 1444.0,551.3 1443.6,551.8 1443.1,552.2 1442.8,552.8 1442.9,553.5 1442.9,554.2 1442.9,554.9 1442.8,555.5 1442.6,556.1 1442.5,556.8 1442.3,557.4 1442.1,557.9 1441.8,558.5 1441.6,559.1 1441.3,559.6 1441.0,560.2 1440.7,560.7 1440.3,561.2 1440.0,561.7 1439.6,562.2 1439.2,562.6 1438.8,563.1 1438.3,563.5 1437.9,564.0 1437.4,564.4 1436.9,564.8 1436.4,565.1 1435.8,565.5 1435.1,565.8 1434.7,566.2 1434.8,567.0 1434.8,567.7 1434.7,568.4 1434.6,569.0 1434.4,569.7 1434.2,570.3 1434.0,570.9 1433.8,571.5 1433.5,572.1 1433.2,572.6 1432.8,573.2 1432.5,573.7 1432.1,574.2 1431.7,574.7 1431.2,575.2 1430.7,575.6 1430.3,576.0 1429.8,576.4 1429.2,576.7 1428.7,577.1 1428.2,577.4 1427.6,577.7 1427.0,577.9 1426.4,578.2 1425.8,578.4 1425.1,578.5 1424.2,578.6 1424.1,579.3 1424.1,580.0 1423.9,580.6 1423.8,581.3 1423.6,581.8 1423.4,582.3 1423.1,582.9 1422.8,583.3 1422.6,583.8 1422.2,584.3 1421.9,584.6 1421.5,585.0 1421.1,585.5 1420.7,585.8 1420.2,586.2 1419.6,586.6 1418.8,587.0 1419.4,587.8 1419.8,588.5 1420.1,589.2 1420.3,589.9 1420.5,590.5 1420.6,591.1 1420.7,591.8 1420.7,592.4 1420.7,593.0 1420.6,593.6 1420.5,594.2 1420.3,594.8 1420.1,595.4 1419.8,596.0 1419.5,596.5 1419.2,597.1 1418.7,597.7 1418.2,598.2 1417.7,598.7 1417.0,599.1 1416.3,599.5 1415.3,599.8 1414.8,600.2 1414.8,600.9 1414.7,601.6 1414.5,602.2 1414.3,602.8 1414.0,603.4 1413.7,604.0 1413.4,604.6 1413.0,605.1 1412.7,605.7 1412.2,606.2 1411.9,606.7 1411.4,607.2 1411.0,607.6 1410.5,608.0 1410.1,608.5 1409.6,608.9 1409.1,609.2 1408.6,609.6 1408.1,610.0 1407.6,610.3 1407.1,610.6 1406.6,611.0 1406.1,611.3 1405.6,611.6 1405.1,611.9 1404.6,612.1 1404.0,612.4 1403.5,612.7 1402.9,612.9 1402.3,613.2 1401.7,613.4 1401.3,613.9 1401.2,614.5 1401.0,615.1 1400.7,615.6 1400.5,616.2 1400.3,616.8 1400.1,617.3 1399.9,617.8 1399.6,618.4 1399.4,618.9 1399.1,619.4 1398.9,620.0 1398.6,620.5 1398.3,621.0 1398.1,621.5 1397.8,622.0 1397.5,622.6 1397.2,623.1 1396.9,623.6 1396.6,624.1 1396.2,624.6 1395.9,625.1 1395.6,625.6 1395.2,626.1 1394.8,626.6 1394.4,627.0 1394.0,627.5 1393.6,628.0 1393.2,628.4 1392.7,628.8 1392.2,629.2 1391.7,629.6 1390.9,629.9 1391.0,630.7 1390.9,631.3 1390.8,632.0 1390.6,632.6 1390.3,633.2 1390.1,633.7 1389.8,634.3 1389.5,634.9 1389.1,635.4 1388.8,635.9 1388.4,636.4 1388.1,636.9 1387.7,637.4 1387.3,637.9 1386.8,638.3 1386.4,638.8 1385.9,639.2 1385.5,639.6 1385.0,640.0 1384.5,640.4 1384.0,640.7 1383.5,641.1 1383.0,641.4 1382.5,641.7 1381.9,642.0 1381.4,642.3 1380.8,642.6 1380.1,642.8 1379.3,642.8 1379.8,644.2 1379.9,645.1 1379.8,645.9 1379.6,646.6 1379.4,647.2 1379.2,647.8 1378.9,648.3 1378.5,648.8 1378.1,649.2 1377.6,649.5 1377.0,649.8 1376.4,650.1 1375.8,650.3 1375.1,650.4 1374.2,650.4 1373.3,650.3 1372.3,650.2 1372.3,651.0 1372.1,651.6 1371.8,652.3 1371.6,652.8 1371.3,653.4 1371.0,653.9 1370.6,654.4 1370.2,654.9 1369.8,655.4 1369.4,655.8 1369.0,656.2 1368.5,656.6 1368.0,657.0 1367.5,657.3 1367.0,657.7 1366.5,658.0 1365.9,658.2 1365.3,658.5 1364.6,658.6 1363.9,658.7 1363.4,659.2 1363.3,660.0 1363.2,660.7 1362.9,661.3 1362.6,661.9 1362.4,662.5 1362.0,663.1 1361.7,663.7 1361.3,664.2 1360.9,664.7 1360.5,665.2 1360.1,665.7 1359.7,666.2 1359.2,666.6 1358.8,667.1 1358.3,667.5 1357.8,667.9 1357.3,668.2 1356.8,668.6 1356.3,668.9 1355.8,669.3 1355.2,669.6 1354.7,669.8 1354.1,670.1 1353.6,670.4 1353.0,670.6 1352.4,670.8 1351.9,671.0 1351.3,671.2 1350.7,671.4 1350.1,671.6 1349.5,671.7 1348.8,671.8 1348.2,671.9 1347.5,672.0 1346.8,672.0 1346.0,672.0 1346.1,673.1 1346.1,673.9 1346.0,674.6 1345.8,675.3 1345.6,675.9 1345.4,676.4 1345.1,677.0 1344.9,677.5 1344.6,678.0 1344.2,678.4 1343.9,678.9 1343.5,679.3 1343.1,679.7 1342.6,680.0 1342.1,680.4 1341.5,680.7 1340.9,681.0 1340.3,681.2 1339.6,681.4 1338.9,681.6 1338.0,681.7 1337.0,681.6 1336.7,682.0 1336.6,682.9 1336.3,683.6 1336.1,684.2 1335.7,684.9 1335.3,685.5 1334.9,686.0 1334.4,686.6 1333.9,687.1 1333.3,687.5 1332.7,687.9 1332.1,688.3 1331.5,688.6 1330.8,688.8 1330.2,689.1 1329.5,689.2 1328.9,689.4 1328.2,689.5 1327.6,689.5 1326.9,689.5 1326.3,689.5 1325.7,689.5 1325.1,689.4 1324.4,689.3 1323.8,689.2 1323.1,689.0 1322.4,688.7 1321.8,688.6 1321.5,689.6 1321.1,690.4 1320.7,691.0 1320.2,691.6 1319.7,692.1 1319.2,692.5 1318.7,692.9 1318.2,693.2 1317.6,693.4 1317.1,693.6 1316.5,693.8 1315.9,693.9 1315.3,694.0 1314.6,694.0 1314.0,693.9 1313.3,693.8 1312.6,693.7 1311.9,693.4 1311.2,693.1 1310.4,692.6 1309.8,692.5 1309.4,693.3 1308.9,693.9 1308.5,694.4 1308.0,694.9 L1302.9,692.3 1297.6,691.9 1291.1,691.3 1283.7,690.3 1275.5,688.6 1266.8,686.0 1256.9,682.0 1245.5,676.8 1233.3,670.9 1221.2,664.9 1209.9,659.4 1200.0,654.8 1191.8,651.3 1184.7,648.5 1178.4,646.2 1172.4,644.1 1166.6,641.9 1160.6,639.5 1154.2,636.8 1147.8,633.9 1141.4,630.9 1135.4,628.2 1129.8,625.7 1125.0,623.6 1121.0,622.1 1117.6,621.1 1114.7,620.3 1112.2,619.7 1109.9,619.0 1107.6,618.0 1105.4,616.8 1103.4,615.6 1101.5,614.3 1099.9,612.9 1098.4,611.3 1097.0,609.5 1095.8,607.5 1094.7,605.2 1093.7,602.8 1093.0,600.3 1092.4,597.6 1092.0,595.0 1091.8,592.2 1091.8,589.3 1092.0,586.3 1092.3,583.3 1092.9,580.4 1093.5,577.7 1094.4,575.1 1095.5,572.4 1096.7,569.9 1098.0,567.6 1099.4,565.4 1100.6,563.6 1101.9,562.1 1103.2,560.9 1104.5,559.9 1105.8,559.1 1106.8,558.5 1107.6,558.0 L1349,437 L1451.5,448 Z"/>
<path fill="#c6c6c6" stroke="#777" stroke-width="1" d="M1349.0,436.7 L1351.0,437.0 1353.7,437.3 1356.9,437.8 1360.4,438.2 1363.8,438.7 1367.0,439.0 1369.9,439.3 1372.7,439.6 1375.5,439.9 1378.3,440.0 1381.4,440.1 1384.7,440.0 1388.5,439.6 1392.7,439.0 1397.1,438.2 1401.4,437.5 1405.5,436.9 1409.0,436.7 1411.7,436.8 1413.8,437.1 1415.5,437.6 1417.3,438.3 1419.6,439.1 1422.6,440.0 1426.8,441.0 1432.1,442.0 1437.8,443.1 1443.3,444.4 1448.1,446.1 1451.5,448.0 1453.5,450.3 1454.5,453.0 1454.7,455.9 1454.5,459.0 1454.0,462.3 1453.7,465.6 1453.4,468.9 1453.0,472.3 1452.3,475.8 1451.4,479.6 1450.3,483.6 1449.0,488.0 1447.3,492.9 1445.4,498.2 1443.2,503.8 1440.9,509.6 1438.4,515.3 1436.0,521.0 1433.5,526.6 1430.9,532.4 1428.1,538.1 1425.4,543.8 1422.7,549.4 1420.0,554.7 1417.4,559.9 1414.9,564.9 1412.4,569.9 1409.9,574.6 1407.4,579.2 1404.8,583.6 1402.2,587.8 1399.7,591.7 1397.2,595.5 1394.6,599.1 1391.9,602.6 1389.0,606.0 1386.0,609.3 1382.8,612.4 1379.5,615.4 1376.1,618.3 1372.6,621.1 1369.0,623.7 1365.3,626.2 1361.6,628.7 1357.7,631.0 1353.7,633.2 1349.3,635.2 1344.7,637.0 1339.5,638.6 1333.7,640.1 1327.7,641.3 1321.7,642.4 1316.0,643.2 1311.0,643.7 1306.5,643.9 1302.2,643.8 1298.3,643.4 1294.7,642.8 1291.6,642.2 1289.0,641.5 1287.0,640.6 1285.7,639.5 1284.8,638.2 1284.1,637.0 1283.6,636.1 1283.0,635.5 1282.6,635.5 1282.5,635.9 1282.5,636.6 1282.4,637.3 1282.0,637.8 1281.0,638.0 1279.6,637.8 1277.9,637.3 1275.9,636.7 1273.4,636.0 1270.4,635.3 1266.8,634.8 1262.2,634.4 1256.5,634.1 1250.4,633.8 1244.1,633.5 1238.2,633.1 1233.0,632.6 1228.4,631.9 1224.0,631.1 1219.9,630.2 1216.3,629.3 1213.3,628.5 1211.0,628.0 L1214.5,624.4 1219.3,619.6 1225.0,613.9 1231.3,607.3 1237.9,600.1 1244.5,592.5 1251.4,583.9 1258.9,574.2 1266.8,563.8 1274.6,553.4 1282.1,543.5 1289.0,534.6 1295.3,526.8 1301.4,519.5 1307.2,512.8 1312.5,506.5 1317.5,500.4 1322.0,494.6 1326.0,489.1 1329.4,484.1 1332.5,479.4 1335.2,474.9 1337.7,470.3 1340.0,465.6 1342.1,460.4 1344.0,454.9 1345.6,449.3 1347.0,444.2 1348.1,439.8 1349.0,436.7 Z"/>
<path fill="none" stroke="#eee" stroke-width="1" d="M1445.0,452.0 L1445.3,453.6 1445.7,455.7 1446.2,458.2 1446.7,461.0 1447.0,464.0 1447.0,467.0 1446.8,470.0 1446.4,473.1 1445.9,476.4 1445.2,480.0 1444.3,483.8 1443.0,488.0 1441.4,492.7 1439.4,497.9 1437.2,503.3 1434.9,508.9 1432.4,514.5 1430.0,520.0 1427.5,525.4 1424.9,530.8 1422.1,536.2 1419.4,541.6 1416.6,546.9 1414.0,552.0 1411.4,557.0 1408.9,561.9 1406.4,566.6 1404.0,571.3 1401.5,575.7 1399.0,580.0 1396.5,584.1 1394.1,588.0 1391.8,591.7 1389.3,595.3 1386.7,598.7 1384.0,602.0 1381.1,605.2 1378.1,608.2 1375.0,611.1 1371.8,613.8 1368.4,616.5 1365.0,619.0 1361.5,621.5 1357.9,623.9 1354.2,626.1 1350.4,628.3 1346.3,630.2 1342.0,632.0 1337.2,633.6 1331.9,635.1 1326.4,636.4 1320.9,637.6 1315.7,638.4 1311.0,639.0 1306.7,639.2 1302.5,638.9 1298.6,638.4 1295.1,637.9 1292.2,637.3 1290.0,637.0"/>
<path fill="none" stroke="#222" stroke-width="1.5" d="M1349.0,436.7 L1351.0,437.0 1353.7,437.3 1356.9,437.8 1360.4,438.2 1363.8,438.7 1367.0,439.0 1369.9,439.3 1372.7,439.6 1375.5,439.9 1378.3,440.0 1381.4,440.1 1384.7,440.0 1388.5,439.6 1392.7,439.0 1397.1,438.2 1401.4,437.5 1405.5,436.9 1409.0,436.7 1411.7,436.8 1413.8,437.1 1415.5,437.6 1417.3,438.3 1419.6,439.1 1422.6,440.0 1426.9,441.2 1432.2,442.6 1437.9,444.2 1443.4,445.8 1448.2,447.1 1451.5,448.0"/>
<path fill="none" stroke="#f4f4f4" stroke-width="0.9" transform="translate(0,2.2)" d="M1349.0,436.7 L1351.0,437.0 1353.7,437.3 1356.9,437.8 1360.4,438.2 1363.8,438.7 1367.0,439.0 1369.9,439.3 1372.7,439.6 1375.5,439.9 1378.3,440.0 1381.4,440.1 1384.7,440.0 1388.5,439.6 1392.7,439.0 1397.1,438.2 1401.4,437.5 1405.5,436.9 1409.0,436.7 1411.7,436.8 1413.8,437.1 1415.5,437.6 1417.3,438.3 1419.6,439.1 1422.6,440.0 1426.9,441.2 1432.2,442.6 1437.9,444.2 1443.4,445.8 1448.2,447.1 1451.5,448.0"/>
<path fill="none" stroke="#808080" stroke-width="1" stroke-dasharray="3 2" d="M1244.5,597.0 L1253.6,598.2 1266.9,600.0 1282.2,602.1 1297.9,604.0 1311.7,605.4 1322.0,606.0 1328.1,605.8 1331.4,605.2 1333.0,604.0 1334.0,602.3 1335.3,600.0 1338.0,597.0 1342.1,593.3 1346.9,589.0 1352.0,584.0 1357.2,578.5 1362.3,572.4 1367.0,565.8 1371.6,558.0 1376.2,548.9 1380.7,539.2 1384.9,529.8 1388.5,521.3 1391.4,514.6 1393.4,509.9 1394.8,506.5 1395.7,504.2 1396.1,502.4 1396.1,500.8 1396.0,499.0 1395.9,497.2 1395.9,495.8 1395.6,494.5 1394.5,493.2 1392.5,491.8 1389.0,490.0 1383.3,487.6 1375.4,484.7 1366.4,481.7 1357.6,478.8 1350.0,476.3 1344.7,474.5"/>
<path fill="none" stroke="#111" stroke-width="1.2" d="M1315.7,654.8 C1320,662 1323,672 1324.6,683.8"/>
<path fill="#fff" stroke="#111" stroke-width="1.2" stroke-linejoin="round" d="M1105.0,537.0 L1106.2,535.9 1107.7,534.3 1109.5,532.4 1111.6,530.4 1114.0,528.4 1116.5,526.5 1119.5,524.7 1123.2,522.9 1127.0,521.0 1130.7,519.2 1133.8,517.5 1136.0,516.0 1136.9,514.5 1136.9,513.1 1136.2,511.7 1135.4,510.6 1134.9,509.6 1135.0,509.0 1135.7,508.8 1136.7,509.1 1137.9,509.6 1139.3,510.1 1141.0,510.5 1143.0,510.6 1145.3,510.3 1148.0,509.8 1150.9,509.2 1153.9,508.5 1157.0,507.7 1160.0,507.0 1163.1,506.3 1166.4,505.5 1169.7,504.7 1172.9,503.9 1175.7,503.0 1178.0,502.0 1179.7,500.9 1180.8,499.6 1181.6,498.3 1182.2,497.0 1182.8,495.7 1183.6,494.7 1184.3,494.0 1184.8,493.5 1185.3,493.2 1186.1,492.8 1187.2,492.1 1189.0,491.0 1191.5,489.4 1194.6,487.4 1198.2,485.1 1202.0,482.7 1206.0,480.3 1210.0,478.0 1214.1,475.7 1218.3,473.4 1222.7,471.1 1227.2,468.8 1231.8,466.7 1236.5,464.7 1241.3,463.0 1246.4,461.4 1251.5,460.0 1256.6,458.6 1261.7,457.3 1266.5,456.0 1271.4,454.7 1276.5,453.4 1281.5,452.2 1286.1,451.0 1290.0,450.0 1293.0,449.0 1294.9,448.2 1295.8,447.4 1296.1,446.8 1295.9,446.2 1295.5,445.6 1295.0,445.0 1294.1,444.3 1292.6,443.7 1290.8,443.0 1289.1,442.3 1288.1,441.7 1288.0,441.0 1288.8,440.3 1289.9,439.5 1291.7,438.8 1294.2,438.1 1297.6,437.5 1302.0,437.0 1308.3,436.7 1316.6,436.6 1325.7,436.5 1334.7,436.5 1342.4,436.5 1347.7,436.5 L1347.0,439.7 1346.1,444.0 1345.0,449.2 1343.6,454.8 1342.0,460.4 1340.0,465.6 1337.8,470.3 1335.3,474.9 1332.6,479.4 1329.5,484.1 1326.0,489.1 1322.0,494.6 1317.2,500.7 1311.7,507.3 1305.8,514.3 1299.8,521.3 1294.1,528.1 1289.0,534.6 1284.6,540.8 1280.7,546.9 1277.1,552.8 1273.6,558.5 1270.1,564.0 1266.5,569.0 1262.9,573.4 1259.5,577.2 1256.1,580.7 1252.6,584.3 1248.8,588.1 1244.5,592.5 1239.3,598.0 1233.2,604.5 1226.9,611.2 1220.8,617.6 1215.7,623.1 1212.0,627.0 L1208.0,627.0 1204.8,624.3 1200.4,620.4 1195.2,615.9 1189.5,611.1 1183.6,606.3 1178.0,602.0 1172.5,598.1 1166.7,594.3 1160.8,590.5 1154.9,586.8 1148.9,583.2 1143.0,579.5 1136.8,575.7 1130.1,571.8 1123.3,568.0 1117.1,564.3 1111.7,560.9 1107.6,558.0 1105.1,555.7 1103.9,553.9 1103.5,552.3 1103.7,551.0 1104.0,549.6 1104.0,548.0 1103.9,546.1 1104.0,544.0 1104.3,541.9 1104.6,539.9 1104.8,538.2 1105.0,537.0 Z"/>
<path fill="none" stroke="#111" stroke-width="2.2" d="M1347.7,436.5 L1347.0,439.7 1346.1,444.0 1345.0,449.2 1343.6,454.8 1342.0,460.4 1340.0,465.6 1337.8,470.3 1335.3,474.9 1332.6,479.4 1329.5,484.1 1326.0,489.1 1322.0,494.6 1317.2,500.7 1311.7,507.3 1305.8,514.3 1299.8,521.3 1294.1,528.1 1289.0,534.6 1284.6,540.8 1280.7,546.9 1277.1,552.8 1273.6,558.5 1270.1,564.0 1266.5,569.0 1262.9,573.4 1259.5,577.2 1256.1,580.7 1252.6,584.3 1248.8,588.1 1244.5,592.5 1239.3,598.0 1233.2,604.5 1226.9,611.2 1220.8,617.6 1215.7,623.1 1212.0,627.0"/>
<path fill="none" stroke="#222" stroke-width="2" d="M1105.0,537.0 L1106.2,535.9 1107.7,534.3 1109.5,532.4 1111.6,530.4 1114.0,528.4 1116.5,526.5 1119.5,524.7 1123.2,522.9 1127.0,521.0 1130.7,519.2 1133.8,517.5 1136.0,516.0 1136.9,514.5 1136.9,513.1 1136.2,511.7 1135.4,510.6 1134.9,509.6 1135.0,509.0 1135.7,508.8 1136.7,509.1 1137.9,509.6 1139.3,510.1 1141.0,510.5 1143.0,510.6 1145.3,510.3 1148.0,509.8 1150.9,509.2 1153.9,508.5 1157.0,507.7 1160.0,507.0 1163.1,506.3 1166.4,505.5 1169.7,504.7 1172.9,503.9 1175.7,503.0 1178.0,502.0 1179.7,500.9 1180.8,499.6 1181.6,498.3 1182.2,497.0 1182.8,495.7 1183.6,494.7 1184.3,494.0 1184.8,493.5 1185.3,493.2 1186.1,492.8 1187.2,492.1 1189.0,491.0 1191.5,489.4 1194.6,487.4 1198.2,485.1 1202.0,482.7 1206.0,480.3 1210.0,478.0 1214.1,475.7 1218.3,473.4 1222.7,471.1 1227.2,468.8 1231.8,466.7 1236.5,464.7 1241.3,463.0 1246.4,461.4 1251.5,460.0 1256.6,458.6 1261.7,457.3 1266.5,456.0 1271.4,454.7 1276.5,453.4 1281.5,452.2 1286.1,451.0 1290.0,450.0 1293.0,449.0 1294.9,448.2 1295.8,447.4 1296.1,446.8 1295.9,446.2 1295.5,445.6 1295.0,445.0 1294.1,444.3 1292.6,443.7 1290.8,443.0 1289.1,442.3 1288.1,441.7 1288.0,441.0 1288.8,440.3 1289.9,439.5 1291.7,438.8 1294.2,438.1 1297.6,437.5 1302.0,437.0 1308.3,436.7 1316.6,436.6 1325.7,436.5 1334.7,436.5 1342.4,436.5 1347.7,436.5"/>
<path fill="none" stroke="#111" stroke-width="3.4" stroke-dasharray="0.9 0.9" d="M1105.0,537.0 L1106.2,535.9 1107.7,534.3 1109.5,532.4 1111.6,530.4 1114.0,528.4 1116.5,526.5 1119.5,524.7 1123.2,522.9 1127.0,521.0 1130.7,519.2 1133.8,517.5 1136.0,516.0 1136.9,514.5 1136.9,513.1 1136.2,511.7 1135.4,510.6 1134.9,509.6 1135.0,509.0 1135.7,508.8 1136.7,509.1 1137.9,509.6 1139.3,510.1 1141.0,510.5 1143.0,510.6 1145.3,510.3 1148.0,509.8 1150.9,509.2 1153.9,508.5 1157.0,507.7 1160.0,507.0 1163.1,506.3 1166.4,505.5 1169.7,504.7 1172.9,503.9 1175.7,503.0 1178.0,502.0 1179.7,500.9 1180.8,499.6 1181.6,498.3 1182.2,497.0 1182.8,495.7 1183.6,494.7 1184.3,494.0 1184.8,493.5 1185.3,493.2 1186.1,492.8 1187.2,492.1 1189.0,491.0 1191.5,489.4 1194.6,487.4 1198.2,485.1 1202.0,482.7 1206.0,480.3 1210.0,478.0 1214.1,475.7 1218.3,473.4 1222.7,471.1 1227.2,468.8 1231.8,466.7 1236.5,464.7 1241.3,463.0 1246.4,461.4 1251.5,460.0 1256.6,458.6 1261.7,457.3 1266.5,456.0 1271.4,454.7 1276.5,453.4 1281.5,452.2 1286.1,451.0 1290.0,450.0 1293.0,449.0 1294.9,448.2 1295.8,447.4 1296.1,446.8 1295.9,446.2 1295.5,445.6 1295.0,445.0 1294.1,444.3 1292.6,443.7 1290.8,443.0 1289.1,442.3 1288.1,441.7 1288.0,441.0 1288.8,440.3 1289.9,439.5 1291.7,438.8 1294.2,438.1 1297.6,437.5 1302.0,437.0 1308.3,436.7 1316.6,436.6 1325.7,436.5 1334.7,436.5 1342.4,436.5 1347.7,436.5"/>
<path fill="none" stroke="#111" stroke-width="1.2" d="M1208.0,627.0 L1204.8,624.3 1200.4,620.4 1195.2,615.9 1189.5,611.1 1183.6,606.3 1178.0,602.0 1172.5,598.1 1166.7,594.3 1160.8,590.5 1154.9,586.8 1148.9,583.2 1143.0,579.5 1136.8,575.7 1130.1,571.8 1123.3,568.0 1117.1,564.3 1111.7,560.9 1107.6,558.0 1105.1,555.7 1103.9,553.9 1103.5,552.3 1103.7,551.0 1104.0,549.6 1104.0,548.0 1103.9,546.1 1104.0,544.0 1104.3,541.9 1104.6,539.9 1104.8,538.2 1105.0,537.0"/>
<path fill="none" stroke="#111" stroke-width="3" stroke-dasharray="0.9 0.9" d="M1208.0,627.0 L1204.8,624.3 1200.4,620.4 1195.2,615.9 1189.5,611.1 1183.6,606.3 1178.0,602.0 1172.5,598.1 1166.7,594.3 1160.8,590.5 1154.9,586.8 1148.9,583.2 1143.0,579.5 1136.8,575.7 1130.1,571.8 1123.3,568.0 1117.1,564.3 1111.7,560.9 1107.6,558.0 1105.1,555.7 1103.9,553.9 1103.5,552.3 1103.7,551.0 1104.0,549.6 1104.0,548.0 1103.9,546.1 1104.0,544.0 1104.3,541.9 1104.6,539.9 1104.8,538.2 1105.0,537.0"/>
<!-- armrest loop -->
<path fill="#fff" stroke="#111" stroke-width="2.5" stroke-linejoin="round" d="M1236.5,464.7 C1238,455 1239,446 1241,439 C1244,432 1247,428 1251,426.7 C1257,425.5 1262,426.5 1266.8,427.8 C1276,430 1285,433 1293.5,436.5 L1288,441 C1293,444 1296,446 1293,449 C1285,451 1275,454 1266.5,456 C1256,459 1246,462 1236.5,464.7 Z"/>
<path fill="none" stroke="#111" stroke-width="2" d="M1248,434.5 C1253,442 1259,449 1264.5,455.6"/>
<!-- flap fold details -->
<g fill="none" stroke="#333" stroke-width="1">
<path d="M1320,443 C1325,446 1327,450 1323,453 C1320,455 1322,458 1326,459 M1316,459 L1330,461 L1322,466 Z"/>
<path d="M1328,466 C1322,476 1316,486 1311,497 C1312,499 1316,496 1318,492 C1322,484 1326,474 1330,468"/>
<path d="M1182,597 L1192,596 L1196,603 L1188,604 L1183,598"/>
</g>
<g fill="none" stroke="#aaa" stroke-width="0.8">
<path d="M1152,573 C1154,578 1156,585 1157,590 M1175,586 C1176,592 1178,598 1180,602"/>
</g>
<!-- zipper puller -->
<path fill="none" stroke="#555" stroke-width="1" d="M1350,438 C1353,442 1355,447 1356,452 C1354,453 1352,452 1351,449 C1350,446 1349,442 1350,438 Z"/>
<!-- arrow -->
<path fill="none" stroke="#111" stroke-width="2.2" d="M1284.6,426.7 C1320,427.5 1370,428.5 1421,431"/>
<path fill="#111" d="M1420,423 C1432,425 1442,432 1448,440 L1419,440 Z"/>
<circle cx="1259.5" cy="509.7" r="15" fill="#0c0c0c"/>
<text x="1259.5" y="517.7" font-family="Liberation Sans, sans-serif" font-size="22.5" fill="#fff" stroke="#fff" stroke-width="0.5" text-anchor="middle">A</text>
<use href="#insetA" x="1325.2" y="290.6"/>
</g>
<g id="p4">
<path fill="#fff" stroke="#111" stroke-width="2.5" stroke-linejoin="round" d="M50.0,1089.7 L48.7,1090.3 46.9,1091.1 44.8,1092.0 42.5,1093.2 40.3,1094.7 38.4,1096.6 36.6,1099.0 34.8,1101.8 33.1,1104.9 31.5,1108.3 30.2,1111.7 29.2,1115.0 28.6,1118.4 28.2,1122.1 28.0,1125.8 28.2,1129.4 28.6,1132.8 29.2,1135.7 30.0,1138.1 30.9,1140.2 32.1,1142.0 33.6,1143.7 35.7,1145.4 38.4,1147.2 41.7,1149.0 45.6,1150.8 49.9,1152.5 54.8,1154.4 60.1,1156.4 66.0,1158.7 72.3,1161.3 79.1,1164.1 86.4,1167.1 94.3,1170.3 102.8,1173.6 112.0,1177.0 122.2,1180.6 133.4,1184.4 145.2,1188.3 157.3,1192.3 169.4,1196.2 181.2,1200.0 193.2,1203.8 205.8,1207.7 218.4,1211.5 230.4,1215.1 241.1,1218.3 250.0,1221.0 256.7,1223.2 261.5,1225.0 265.1,1226.4 268.1,1227.4 271.0,1227.9 274.5,1227.8 278.6,1226.9 282.7,1225.2 286.9,1223.0 290.8,1220.6 294.4,1218.1 297.6,1216.0 300.1,1214.1 301.9,1212.4 303.4,1210.6 304.9,1208.8 306.7,1206.9 309.0,1204.8 312.5,1203.4 317.2,1202.9 322.1,1202.3 326.4,1200.6 329.3,1196.9 330.0,1190.0 327.5,1180.0 322.4,1167.5 315.9,1153.0 309.2,1136.7 303.5,1118.9 300.0,1100.0 299.0,1077.6 299.6,1051.0 301.1,1022.9 303.1,996.0 304.9,973.2 306.0,957.0 Z"/>
<path fill="none" stroke="#111" stroke-width="1.2" d="M271,1191 C275,1197 277.9,1204.8 277.9,1223"/>
<path fill="#c6c6c6" stroke="#777" stroke-width="1" d="M303.2,956.0 L303.5,956.1 303.8,956.2 304.1,956.3 304.7,956.5 305.6,956.8 306.8,957.3 308.4,958.0 310.4,959.0 312.6,960.2 315.1,961.3 317.8,962.3 320.6,963.0 323.8,963.5 327.6,963.9 331.5,964.2 335.3,964.3 338.7,964.3 341.3,964.2 342.8,963.9 343.4,963.4 343.5,962.7 343.7,962.0 344.3,961.3 346.0,960.7 348.8,960.0 352.5,959.3 356.6,958.6 361.0,957.9 365.2,957.5 369.0,957.3 372.2,957.4 375.0,957.7 377.6,958.2 380.4,958.9 383.6,959.7 387.4,960.7 392.2,961.7 397.9,962.6 403.9,963.7 409.9,965.1 415.3,967.2 419.6,970.0 423.1,973.9 426.3,978.7 428.9,984.1 430.7,989.8 431.5,995.2 431.0,1000.0 428.7,1004.1 424.7,1007.9 419.7,1011.4 414.3,1014.9 409.1,1018.7 405.0,1023.0 401.8,1027.9 399.1,1033.3 396.6,1039.0 394.3,1044.7 392.0,1050.1 389.7,1055.0 387.4,1059.2 385.3,1062.8 383.1,1066.2 381.0,1069.6 378.6,1073.5 375.9,1078.0 372.8,1083.5 369.4,1089.7 365.7,1096.4 362.0,1103.0 358.4,1109.3 355.0,1115.0 351.7,1120.0 348.4,1124.7 345.1,1129.1 342.0,1133.2 339.2,1136.9 336.7,1140.3 334.7,1143.2 333.3,1145.6 332.0,1147.6 330.8,1149.5 329.4,1151.6 327.5,1154.0 325.3,1156.8 323.0,1160.0 320.5,1163.2 317.6,1166.4 314.1,1169.4 310.0,1172.0 305.0,1174.3 299.2,1176.4 292.9,1178.3 286.3,1179.9 279.7,1181.1 273.3,1181.8 266.7,1181.9 259.6,1181.4 252.6,1180.4 246.0,1179.3 240.4,1178.1 236.4,1177.0 234.6,1175.9 234.9,1174.6 236.1,1173.2 237.4,1171.9 237.8,1170.8 236.4,1170.0 233.0,1169.7 228.4,1169.8 222.9,1170.1 216.8,1170.4 210.5,1170.4 204.2,1170.0 197.4,1168.9 189.5,1167.3 181.5,1165.5 173.9,1163.7 167.4,1162.1 162.8,1161.0 L167.4,1153.6 173.8,1146.4 181.3,1137.9 189.4,1128.9 197.2,1120.2 204.2,1112.7 210.3,1106.3 216.2,1100.5 221.9,1095.1 227.4,1089.6 233.0,1084.0 238.7,1078.0 244.6,1071.5 250.7,1064.6 256.7,1057.6 262.6,1050.5 268.2,1043.5 273.3,1036.7 278.0,1030.1 282.4,1023.6 286.5,1017.2 290.3,1010.7 293.5,1004.2 296.3,997.6 298.5,990.3 300.0,982.4 301.2,974.4 302.0,966.9 302.6,960.6 303.2,956.0 Z"/>
<path fill="none" stroke="#808080" stroke-width="1" stroke-dasharray="3 2" d="M195.0,1131.0 L201.4,1131.8 210.4,1133.1 221.0,1134.5 232.0,1135.9 242.0,1137.2 250.0,1138.0 255.7,1138.5 260.0,1138.9 263.4,1139.1 266.5,1139.0 269.6,1138.7 273.3,1138.0 277.9,1136.8 282.9,1135.0 288.1,1133.0 293.0,1131.0 297.1,1129.2 300.0,1128.0 M301.0,997.6 L302.9,998.4 305.6,999.4 308.7,1000.7 312.1,1002.0 315.6,1003.4 319.0,1004.5 322.4,1005.5 326.1,1006.4 329.9,1007.3 333.6,1008.2 337.0,1009.1 340.0,1010.0 342.6,1010.9 344.9,1011.7 347.0,1012.5 348.9,1013.4 350.5,1014.5 352.0,1016.0 353.4,1017.7 354.7,1019.5 355.8,1021.5 356.6,1023.9 357.0,1026.6 356.7,1030.0 355.9,1033.9 354.5,1038.3 352.7,1043.2 350.5,1048.4 347.9,1054.1 345.0,1060.0 341.5,1066.7 337.5,1074.1 333.0,1082.0 328.5,1089.7 324.0,1096.9 320.0,1103.0 316.1,1108.1 312.2,1112.7 308.4,1116.7 305.0,1120.1 302.1,1122.8 300.0,1125.0"/>
<!-- loop -->
<path fill="#fff" stroke="#111" stroke-width="2.5" stroke-linejoin="round" d="M185.8,988.4 L186.3,985.8 186.9,982.2 187.7,977.9 188.5,973.3 189.4,969.0 190.4,965.3 191.4,962.1 192.4,959.0 193.4,956.1 194.6,953.5 195.9,951.1 197.3,949.2 198.9,947.7 200.7,946.5 202.6,945.7 204.6,945.1 206.7,944.8 208.8,944.6 210.9,944.7 213.1,945.0 215.3,945.5 217.6,946.2 220.0,947.1 222.6,948.0 225.5,949.1 228.7,950.5 232.1,952.1 235.4,953.6 238.4,954.9 241.0,956.0 243.1,956.8 245.0,957.3 246.7,957.7 248.0,958.0 249.1,958.2 250.0,958.4 L230,975 Z"/>
<path fill="none" stroke="#111" stroke-width="2" d="M197.3,953.8 C203,962 209,970 215.7,976.8"/>
<path fill="#fff" stroke="none" d="M43.0,1069.0 L43.5,1067.8 44.1,1066.2 44.8,1064.2 45.9,1062.0 47.6,1059.7 50.0,1057.4 53.7,1054.9 58.7,1052.0 64.2,1049.1 69.7,1046.2 74.4,1043.5 77.6,1041.3 78.9,1039.6 78.8,1038.2 77.9,1037.1 76.9,1036.1 76.6,1035.2 77.6,1034.4 80.1,1033.7 83.6,1033.2 87.7,1032.8 92.1,1032.3 96.5,1031.8 100.6,1031.0 104.6,1029.9 108.9,1028.6 113.1,1027.2 117.1,1025.8 120.7,1024.3 123.6,1023.0 125.2,1022.0 125.5,1021.3 125.3,1020.7 125.6,1019.7 127.0,1018.3 130.5,1016.0 136.7,1012.5 144.9,1008.1 154.4,1003.0 164.2,997.9 173.5,993.3 181.2,989.5 187.4,986.7 192.7,984.4 197.4,982.6 201.8,981.0 206.3,979.5 211.0,978.0 216.4,976.5 222.2,975.0 228.0,973.7 233.4,972.5 237.9,971.2 241.0,970.0 242.3,968.7 242.1,967.5 241.0,966.3 239.7,965.1 238.7,964.0 238.7,963.0 239.3,962.1 239.9,961.2 240.9,960.5 242.6,959.8 245.5,959.1 250.0,958.4 257.1,957.7 266.6,957.1 277.3,956.4 287.9,955.8 296.9,955.4 303.2,955.0 L302.6,960.6 302.0,966.9 301.2,974.4 300.0,982.4 298.5,990.3 296.3,997.6 293.5,1004.2 290.3,1010.7 286.5,1017.2 282.4,1023.6 278.0,1030.1 273.3,1036.7 268.2,1043.5 262.6,1050.5 256.7,1057.6 250.7,1064.6 244.6,1071.5 238.7,1078.0 233.0,1084.0 227.4,1089.6 221.9,1095.1 216.2,1100.5 210.3,1106.3 204.2,1112.7 197.2,1120.2 189.4,1128.9 181.3,1137.9 173.8,1146.4 167.4,1153.6 162.8,1158.7 L155.8,1161.0 155.5,1160.2 155.6,1159.3 155.4,1158.1 154.6,1156.6 152.6,1154.5 149.0,1151.8 143.4,1148.3 136.1,1144.2 127.7,1139.5 118.6,1134.4 109.4,1129.2 100.6,1124.0 91.5,1118.5 81.5,1112.5 71.4,1106.4 61.9,1100.4 53.7,1094.7 47.6,1089.7 44.0,1085.2 42.3,1081.0 42.0,1077.2 42.4,1073.9 42.9,1071.1 43.0,1069.0 Z"/>
<path fill="none" stroke="#111" stroke-width="2.2" d="M162.8,1158.7 L167.4,1153.6 173.8,1146.4 181.3,1137.9 189.4,1128.9 197.2,1120.2 204.2,1112.7 210.3,1106.3 216.2,1100.5 221.9,1095.1 227.4,1089.6 233.0,1084.0 238.7,1078.0 244.6,1071.5 250.7,1064.6 256.7,1057.6 262.6,1050.5 268.2,1043.5 273.3,1036.7 278.0,1030.1 282.4,1023.6 286.5,1017.2 290.3,1010.7 293.5,1004.2 296.3,997.6 298.5,990.3 300.0,982.4 301.2,974.4 302.0,966.9 302.6,960.6 303.2,956.0"/>
<g fill="none" stroke-linejoin="round">
<path stroke="#111" stroke-width="1.3" d="M43.0,1069.0 L43.5,1067.8 44.1,1066.2 44.8,1064.2 45.9,1062.0 47.6,1059.7 50.0,1057.4 53.7,1054.9 58.7,1052.0 64.2,1049.1 69.7,1046.2 74.4,1043.5 77.6,1041.3 78.9,1039.6 78.8,1038.2 77.9,1037.1 76.9,1036.1 76.6,1035.2 77.6,1034.4 80.1,1033.7 83.6,1033.2 87.7,1032.8 92.1,1032.3 96.5,1031.8 100.6,1031.0 104.6,1029.9 108.9,1028.6 113.1,1027.2 117.1,1025.8 120.7,1024.3 123.6,1023.0 125.2,1022.0 125.5,1021.3 125.3,1020.7 125.6,1019.7 127.0,1018.3 130.5,1016.0 136.7,1012.5 144.9,1008.1 154.4,1003.0 164.2,997.9 173.5,993.3 181.2,989.5 187.4,986.7 192.7,984.4 197.4,982.6 201.8,981.0 206.3,979.5 211.0,978.0 216.4,976.5 222.2,975.0 228.0,973.7 233.4,972.5 237.9,971.2 241.0,970.0 242.3,968.7 242.1,967.5 241.0,966.3 239.7,965.1 238.7,964.0 238.7,963.0 239.3,962.1 239.9,961.2 240.9,960.5 242.6,959.8 245.5,959.1 250.0,958.4 257.1,957.7 266.6,957.1 277.3,956.4 287.9,955.8 296.9,955.4 303.2,955.0"/>
<path stroke="#111" stroke-width="3.4" stroke-dasharray="0.9 0.9" d="M43.0,1069.0 L43.5,1067.8 44.1,1066.2 44.8,1064.2 45.9,1062.0 47.6,1059.7 50.0,1057.4 53.7,1054.9 58.7,1052.0 64.2,1049.1 69.7,1046.2 74.4,1043.5 77.6,1041.3 78.9,1039.6 78.8,1038.2 77.9,1037.1 76.9,1036.1 76.6,1035.2 77.6,1034.4 80.1,1033.7 83.6,1033.2 87.7,1032.8 92.1,1032.3 96.5,1031.8 100.6,1031.0 104.6,1029.9 108.9,1028.6 113.1,1027.2 117.1,1025.8 120.7,1024.3 123.6,1023.0 125.2,1022.0 125.5,1021.3 125.3,1020.7 125.6,1019.7 127.0,1018.3 130.5,1016.0 136.7,1012.5 144.9,1008.1 154.4,1003.0 164.2,997.9 173.5,993.3 181.2,989.5 187.4,986.7 192.7,984.4 197.4,982.6 201.8,981.0 206.3,979.5 211.0,978.0 216.4,976.5 222.2,975.0 228.0,973.7 233.4,972.5 237.9,971.2 241.0,970.0 242.3,968.7 242.1,967.5 241.0,966.3 239.7,965.1 238.7,964.0 238.7,963.0 239.3,962.1 239.9,961.2 240.9,960.5 242.6,959.8 245.5,959.1 250.0,958.4 257.1,957.7 266.6,957.1 277.3,956.4 287.9,955.8 296.9,955.4 303.2,955.0"/>
<path stroke="#111" stroke-width="1.3" d="M155.8,1161.0 L155.5,1160.2 155.6,1159.3 155.4,1158.1 154.6,1156.6 152.6,1154.5 149.0,1151.8 143.4,1148.3 136.1,1144.2 127.7,1139.5 118.6,1134.4 109.4,1129.2 100.6,1124.0 91.5,1118.5 81.5,1112.5 71.4,1106.4 61.9,1100.4 53.7,1094.7 47.6,1089.7 44.0,1085.2 42.3,1081.0 42.0,1077.2 42.4,1073.9 42.9,1071.1 43.0,1069.0"/>
<path stroke="#111" stroke-width="3.2" stroke-dasharray="0.9 0.9" d="M155.8,1161.0 L155.5,1160.2 155.6,1159.3 155.4,1158.1 154.6,1156.6 152.6,1154.5 149.0,1151.8 143.4,1148.3 136.1,1144.2 127.7,1139.5 118.6,1134.4 109.4,1129.2 100.6,1124.0 91.5,1118.5 81.5,1112.5 71.4,1106.4 61.9,1100.4 53.7,1094.7 47.6,1089.7 44.0,1085.2 42.3,1081.0 42.0,1077.2 42.4,1073.9 42.9,1071.1 43.0,1069.0"/>
<path stroke="#111" stroke-width="1.3" d="M254.9,972.0 L254.9,972.4 255.3,972.8 255.6,973.4 255.2,974.2 253.5,975.3 250.0,976.8 244.2,978.7 236.6,981.0 227.7,983.6 218.1,986.5 208.5,989.7 199.6,993.0 190.6,996.9 181.0,1001.3 171.4,1006.1 162.5,1010.7 154.8,1014.8 149.0,1018.0 146.0,1020.2 145.4,1021.7 146.1,1022.6 146.9,1023.3 146.7,1024.0 144.3,1025.0 139.0,1026.2 131.6,1027.4 123.2,1028.6 114.9,1029.8 107.8,1031.0 103.0,1032.0 101.2,1032.7 101.7,1033.1 103.4,1033.5 105.2,1034.0 106.1,1035.0 105.0,1036.7 101.3,1039.3 95.8,1042.8 89.3,1046.6 82.8,1050.6 77.1,1054.3 73.0,1057.4 70.7,1059.8 69.5,1061.8 69.1,1063.5 69.2,1065.1 69.4,1066.9 69.5,1069.0 69.4,1071.4 69.4,1074.0 69.5,1076.7 69.9,1079.5 70.7,1082.3 72.0,1085.0 73.8,1087.6 75.9,1090.0 78.5,1092.4 81.5,1095.0 85.0,1097.8 89.0,1101.0 93.9,1104.7 99.7,1108.9 106.0,1113.4 112.4,1117.9 118.4,1122.4 123.6,1126.5 128.1,1130.4 132.3,1134.4 136.1,1138.2 139.6,1141.8 142.5,1145.1 145.0,1148.0 146.8,1150.4 148.1,1152.6 148.8,1154.3 149.3,1155.8 149.6,1157.0 150.0,1158.0"/>
<path stroke="#111" stroke-width="3.4" stroke-dasharray="0.9 0.9" d="M254.9,972.0 L254.9,972.4 255.3,972.8 255.6,973.4 255.2,974.2 253.5,975.3 250.0,976.8 244.2,978.7 236.6,981.0 227.7,983.6 218.1,986.5 208.5,989.7 199.6,993.0 190.6,996.9 181.0,1001.3 171.4,1006.1 162.5,1010.7 154.8,1014.8 149.0,1018.0 146.0,1020.2 145.4,1021.7 146.1,1022.6 146.9,1023.3 146.7,1024.0 144.3,1025.0 139.0,1026.2 131.6,1027.4 123.2,1028.6 114.9,1029.8 107.8,1031.0 103.0,1032.0 101.2,1032.7 101.7,1033.1 103.4,1033.5 105.2,1034.0 106.1,1035.0 105.0,1036.7 101.3,1039.3 95.8,1042.8 89.3,1046.6 82.8,1050.6 77.1,1054.3 73.0,1057.4 70.7,1059.8 69.5,1061.8 69.1,1063.5 69.2,1065.1 69.4,1066.9 69.5,1069.0 69.4,1071.4 69.4,1074.0 69.5,1076.7 69.9,1079.5 70.7,1082.3 72.0,1085.0 73.8,1087.6 75.9,1090.0 78.5,1092.4 81.5,1095.0 85.0,1097.8 89.0,1101.0 93.9,1104.7 99.7,1108.9 106.0,1113.4 112.4,1117.9 118.4,1122.4 123.6,1126.5 128.1,1130.4 132.3,1134.4 136.1,1138.2 139.6,1141.8 142.5,1145.1 145.0,1148.0 146.8,1150.4 148.1,1152.6 148.8,1154.3 149.3,1155.8 149.6,1157.0 150.0,1158.0"/>
</g>
<!-- zipper pulls -->
<g fill="#fff" stroke="#444" stroke-width="0.9">
<rect x="146" y="1156" width="4" height="9" rx="1.5" transform="rotate(-30 148 1160)"/>
<rect x="153" y="1161" width="4" height="9" rx="1.5" transform="rotate(-30 155 1165)"/>
</g>
<!-- armrest -->
<path fill="none" stroke="#999" stroke-width="0.9" d="M405.8,1023.0 L404.0,1026.6 401.5,1031.6 398.6,1037.6 395.5,1043.8 392.4,1049.8 389.7,1055.0 387.3,1059.2 385.2,1062.8 383.1,1066.2 380.9,1069.6 378.6,1073.5 375.9,1078.0 372.8,1083.5 369.4,1089.7 365.7,1096.4 362.0,1103.0 358.4,1109.3 355.0,1115.0 351.7,1120.0 348.4,1124.7 345.1,1129.1 342.0,1133.2 339.2,1136.9 336.7,1140.3 334.5,1143.4 332.6,1146.2 331.0,1148.7 329.5,1150.9 328.4,1152.6 327.5,1154.0"/>
<path fill="none" stroke="#111" stroke-width="2" d="M419.6,1029.8 L420.3,1030.1 420.8,1030.4 421.2,1030.8 421.7,1031.3 422.1,1031.8 422.4,1032.4 422.6,1033.1 422.8,1033.7 422.8,1034.4 422.7,1035.1 422.5,1035.8 422.3,1036.4 422.4,1037.0 422.3,1037.7 422.2,1038.3 422.1,1038.9 421.9,1039.5 421.6,1040.1 421.3,1040.7 421.0,1041.2 420.7,1041.7 420.4,1042.2 420.0,1042.7 419.6,1043.2 419.2,1043.6 418.7,1044.0 418.5,1044.6 418.5,1045.3 418.4,1045.9 418.2,1046.5 418.1,1047.1 417.8,1047.7 417.6,1048.2 417.3,1048.7 417.0,1049.2 416.7,1049.7 416.3,1050.2 415.9,1050.6 415.4,1051.0 414.8,1051.4 415.1,1052.2 415.2,1052.9 415.2,1053.5 415.1,1054.1 414.9,1054.7 414.6,1055.2 414.2,1055.7 413.7,1056.1 412.8,1056.4 413.2,1057.2 413.3,1057.9 413.3,1058.5 413.2,1059.1 413.0,1059.7 412.7,1060.2 412.2,1060.7 411.7,1061.1 411.1,1061.6 411.2,1062.2 411.2,1062.9 411.1,1063.5 410.9,1064.1 410.7,1064.6 410.4,1065.2 410.0,1065.7 409.6,1066.1 409.3,1066.7 409.7,1067.5 409.8,1068.2 409.8,1068.8 409.8,1069.5 409.6,1070.1 409.4,1070.7 409.1,1071.2 408.8,1071.7 408.4,1072.2 407.9,1072.6 407.3,1073.0 406.5,1073.4 406.3,1073.9 406.3,1074.6 406.2,1075.2 406.0,1075.8 405.8,1076.4 405.5,1076.9 405.2,1077.4 404.7,1077.8 404.2,1078.2 403.6,1078.6 404.0,1079.5 404.0,1080.2 404.0,1080.9 404.0,1081.5 403.8,1082.1 403.6,1082.7 403.4,1083.3 403.1,1083.8 402.7,1084.3 402.3,1084.8 401.8,1085.2 401.3,1085.6 400.7,1085.9 399.9,1086.2 399.4,1086.6 399.4,1087.3 399.3,1087.9 399.1,1088.5 398.9,1089.1 398.7,1089.7 398.4,1090.2 398.1,1090.7 397.7,1091.2 397.4,1091.7 397.0,1092.1 396.5,1092.5 396.0,1092.9 395.4,1093.3 394.9,1093.7 394.8,1094.3 394.6,1094.9 394.4,1095.5 394.2,1096.0 394.0,1096.6 393.8,1097.1 393.5,1097.7 393.3,1098.2 393.0,1098.8 392.7,1099.3 392.4,1099.8 392.1,1100.3 391.8,1100.8 391.5,1101.3 391.1,1101.8 390.8,1102.3 390.3,1102.8 390.0,1103.3 390.0,1104.0 390.0,1104.6 389.8,1105.2 389.7,1105.8 389.5,1106.4 389.3,1107.0 389.0,1107.5 388.7,1108.1 388.4,1108.6 388.1,1109.1 387.7,1109.6 387.4,1110.1 386.9,1110.6 386.5,1111.0 386.0,1111.4 385.5,1111.8 385.1,1112.3 385.0,1112.9 384.8,1113.5 384.6,1114.1 384.3,1114.6 384.0,1115.1 383.7,1115.6 383.2,1116.0 382.8,1116.4 382.2,1116.8 382.2,1117.5 382.4,1118.2 382.5,1118.9 382.4,1119.5 382.4,1120.1 382.2,1120.5 382.0,1121.0 381.8,1121.5 381.5,1121.9 381.1,1122.4 380.5,1122.9 379.9,1123.4 380.5,1124.1 380.8,1124.7 381.0,1125.3 381.0,1125.9 381.0,1126.6 380.9,1127.2 380.7,1127.8 380.3,1128.4 379.8,1129.0 378.9,1129.4 379.2,1130.1 379.2,1130.8 379.1,1131.5 378.8,1132.1 378.6,1132.7 378.2,1133.3 377.8,1133.8 377.4,1134.3 377.0,1134.7 376.5,1135.1 375.9,1135.5 375.4,1135.8 374.8,1136.1 374.1,1136.3 373.5,1136.5 373.2,1137.1 372.9,1137.6 372.5,1138.1 372.1,1138.5 371.7,1138.9 371.3,1139.4 370.9,1139.8 370.4,1140.1 369.9,1140.5 369.5,1140.9 369.0,1141.2 368.4,1141.5 367.8,1141.8 367.5,1142.3 367.3,1143.0 367.0,1143.5 366.7,1144.0 366.2,1144.5 365.8,1144.9 365.3,1145.2 364.7,1145.4 364.0,1145.6 363.6,1146.0 363.4,1146.7 363.1,1147.3 362.8,1147.8 362.5,1148.3 362.2,1148.8 361.8,1149.3 361.4,1149.7 361.0,1150.1 360.6,1150.5 360.1,1150.9 359.6,1151.3 359.1,1151.6 358.5,1151.9 357.9,1152.1 357.5,1152.6 357.5,1153.4 357.3,1154.0 357.1,1154.6 356.9,1155.1 356.6,1155.6 356.2,1156.1 355.8,1156.5 355.4,1156.9 354.9,1157.2 354.3,1157.5 353.4,1157.7 353.5,1158.4 353.5,1159.0 353.5,1159.6 353.4,1160.2 353.3,1160.8 353.2,1161.3 353.0,1161.9 352.9,1162.4 352.7,1163.0 352.4,1163.5 352.1,1164.1 351.8,1164.6 351.3,1165.1 351.8,1165.8 352.0,1166.4 352.2,1167.1 352.3,1167.7 352.4,1168.3 352.4,1168.9 352.4,1169.5 352.3,1170.2"/>
<path fill="#fff" stroke="#111" stroke-width="1.8" stroke-linejoin="round" d="M369.0,997.6 L368.7,996.4 368.3,994.7 367.8,992.7 367.6,990.5 367.8,988.4 368.4,986.2 369.4,983.7 370.6,981.2 372.0,978.9 373.5,976.8 375.0,975.0 376.5,973.4 378.3,972.0 380.3,970.8 382.8,970.0 385.8,969.5 389.3,969.4 393.1,969.5 397.1,969.8 401.2,970.0 405.5,970.2 410.1,970.4 414.8,970.7 419.5,971.3 424.2,972.2 428.8,973.5 433.4,975.2 438.0,977.0 442.6,979.1 447.2,981.4 452.0,983.9 456.9,986.6 461.7,989.5 466.3,992.5 470.3,995.3 473.8,998.0 476.9,1000.6 479.7,1003.2 482.1,1006.0 484.0,1009.0 485.5,1012.2 486.5,1015.6 487.1,1019.2 487.4,1023.1 487.5,1027.5 487.3,1032.3 486.9,1037.5 486.1,1043.0 485.2,1048.9 484.0,1055.0 482.7,1061.3 481.1,1067.8 479.3,1074.7 477.3,1081.9 474.9,1089.7 472.1,1098.2 469.0,1107.3 465.7,1116.8 462.2,1126.3 458.7,1135.7 455.1,1145.2 451.4,1155.0 447.6,1164.7 443.9,1173.8 440.3,1181.8 436.9,1188.7 433.6,1194.8 430.4,1200.2 427.2,1205.1 424.2,1209.4 421.4,1213.2 418.7,1216.4 416.1,1219.0 413.4,1221.2 410.4,1223.2 407.1,1224.9 403.6,1226.1 399.9,1227.1 396.0,1227.6 392.0,1227.8 387.9,1227.6 383.8,1227.1 379.4,1226.1 374.6,1224.9 369.0,1223.2 362.5,1221.1 355.1,1218.6 347.3,1215.7 339.5,1212.6 332.0,1209.4 324.7,1205.9 317.3,1201.9 310.1,1197.9 303.4,1194.2 297.6,1191.0 292.7,1188.6 288.5,1186.8 284.8,1185.2 281.7,1183.7 279.0,1181.8 276.8,1179.7 275.0,1177.5 273.8,1175.1 272.9,1172.7 272.2,1170.0 271.8,1167.0 271.8,1163.6 272.0,1160.2 272.6,1156.9 273.4,1154.0 274.5,1151.5 275.9,1149.2 277.6,1147.1 279.5,1145.3 281.4,1143.8 283.4,1142.5 285.6,1141.5 287.9,1140.8 290.3,1140.4 293.0,1140.3 295.8,1140.6 298.7,1141.3 301.9,1142.2 305.3,1143.5 309.0,1145.0 313.2,1146.8 317.9,1149.0 322.8,1151.4 327.6,1153.9 332.0,1156.4 336.1,1159.1 339.9,1162.1 343.7,1165.1 347.2,1167.8 350.5,1170.0 353.6,1171.7 356.6,1173.1 359.3,1174.1 361.9,1174.7 364.3,1174.9 366.4,1174.7 368.3,1174.2 370.0,1173.2 371.7,1171.8 373.5,1170.0 375.2,1167.8 376.8,1165.3 378.4,1162.3 380.4,1158.6 382.8,1154.0 385.9,1148.3 389.5,1141.7 393.4,1134.4 397.4,1126.9 401.2,1119.6 405.0,1112.2 408.9,1104.6 412.7,1097.0 416.4,1089.6 419.6,1082.8 422.5,1076.5 425.1,1070.5 427.4,1064.8 429.4,1059.7 431.1,1055.0 432.4,1050.9 433.4,1047.3 434.1,1044.2 434.5,1041.4 434.6,1039.0 434.5,1037.0 434.1,1035.4 433.4,1034.2 432.4,1033.1 431.1,1032.0 429.4,1031.0 427.4,1030.1 425.1,1029.4 422.5,1028.5 419.6,1027.5 416.4,1026.3 413.0,1025.0 409.2,1023.6 405.3,1022.2 401.2,1020.6 396.7,1018.9 391.6,1017.0 386.6,1015.0 381.9,1013.1 378.2,1011.4 375.5,1009.9 373.5,1008.5 372.1,1007.1 370.9,1005.8 370.0,1004.5 369.3,1003.0 369.0,1001.4 369.0,999.9 369.0,998.5 369.0,997.6 Z"/>
<g fill="none" stroke="#888" stroke-width="0.9" stroke-dasharray="2.5 1.8">
<path d="M374.0,1003.0 L376.8,1004.4 380.8,1006.5 385.4,1008.9 390.4,1011.4 395.4,1013.9 400.0,1016.0 404.4,1017.9 409.0,1019.7 413.6,1021.4 417.9,1023.0 421.8,1024.5 425.0,1026.0 427.5,1027.3 429.4,1028.4 430.8,1029.5 432.0,1030.6 433.0,1031.7 434.0,1033.0 435.1,1034.4 436.0,1035.9 436.9,1037.4 437.5,1039.0 437.9,1040.9 438.0,1043.0 437.8,1045.3 437.2,1047.7 436.4,1050.4 435.4,1053.3 434.3,1056.4 433.0,1060.0 431.6,1063.9 430.0,1068.2 428.3,1072.8 426.4,1077.7 424.3,1082.7 422.0,1088.0 419.4,1093.6 416.5,1099.5 413.4,1105.6 410.3,1111.9 407.1,1118.0 404.0,1124.0 400.9,1130.0 397.7,1136.2 394.5,1142.4 391.4,1148.2 388.5,1153.5 386.0,1158.0 383.9,1161.6 382.1,1164.4 380.5,1166.8 379.0,1168.7 377.6,1170.4 376.0,1172.0 374.4,1173.6 372.9,1175.0 371.4,1176.1 369.8,1177.0 368.0,1177.7 366.0,1178.0 363.7,1178.0 361.3,1177.8 358.6,1177.2 355.9,1176.4 353.0,1175.4 350.0,1174.0 346.9,1172.2 343.7,1170.0 340.4,1167.5 337.0,1164.9 333.5,1162.3 330.0,1160.0 326.4,1157.8 322.5,1155.6 318.6,1153.4 314.8,1151.3 311.2,1149.5 308.0,1148.0 305.2,1146.8 302.7,1145.7 300.4,1144.9 298.2,1144.3 296.1,1144.0 294.0,1144.0 291.7,1144.5 289.4,1145.5 287.1,1146.8 285.0,1148.1 283.3,1149.2 282.0,1150.0"/><path d="M436.0,1034.0 L437.5,1032.6 439.6,1030.7 442.0,1028.5 444.7,1026.1 447.4,1023.9 450.0,1022.0 452.5,1020.4 455.1,1018.8 457.8,1017.3 460.4,1016.0 463.2,1014.9 466.0,1014.0 469.1,1013.4 472.5,1013.1 476.0,1013.0 479.3,1013.0 482.0,1013.0 484.0,1013.0"/><path d="M438.0,1041.0 L439.5,1039.5 441.6,1037.4 444.0,1035.0 446.7,1032.4 449.4,1030.0 452.0,1028.0 454.5,1026.3 457.1,1024.7 459.8,1023.2 462.5,1021.9 465.3,1020.8 468.0,1020.0 471.0,1019.5 474.2,1019.4 477.5,1019.5 480.6,1019.7 483.1,1019.9 485.0,1020.0"/><path d="M368.0,1178.0 L369.3,1180.4 371.1,1183.7 373.2,1187.6 375.6,1191.9 377.9,1196.1 380.0,1200.0 382.1,1203.9 384.4,1208.1 386.8,1212.4 388.9,1216.3 390.7,1219.6 392.0,1222.0"/><path d="M375.0,1176.0 L376.4,1178.4 378.5,1181.6 380.9,1185.5 383.4,1189.7 385.9,1194.0 388.0,1198.0 390.0,1202.2 391.9,1206.7 393.8,1211.4 395.5,1215.7 396.9,1219.4 398.0,1222.0"/>
</g>
<!-- arrow C -->
<path fill="#0c0c0c" stroke="#fff" stroke-width="2" d="M327.5,1071.2 L369,1056.3 L357.4,1074.7 L401.2,1086.2 L394.3,1104.6 L346,1089.7 L332,1110.4 Z"/>
<circle cx="410.4" cy="1102.3" r="15" fill="#0c0c0c" stroke="#fff" stroke-width="1.5"/>
<text x="410.8" y="1110.3" font-family="Liberation Sans, sans-serif" font-size="22" fill="#fff" stroke="#fff" stroke-width="0.6" text-anchor="middle">C</text>
<use href="#insetB" x="321.5" y="850.2"/>
</g>
<g id="p5">
<path fill="#fff" stroke="#111" stroke-width="2.5" stroke-linejoin="round" d="M574.5,1063.6 L573.5,1064.2 572.2,1064.9 570.6,1065.8 568.9,1066.9 567.2,1068.4 565.6,1070.2 564.0,1072.5 562.3,1075.4 560.6,1078.5 559.0,1081.8 557.7,1085.0 556.7,1088.0 556.1,1090.8 555.8,1093.5 555.7,1096.2 555.9,1098.8 556.2,1101.3 556.7,1103.6 557.2,1105.7 557.8,1107.7 558.5,1109.5 559.6,1111.2 561.2,1113.0 563.4,1114.8 566.1,1116.6 569.2,1118.3 572.8,1119.9 577.0,1121.7 582.0,1123.7 587.8,1125.9 594.6,1128.4 602.3,1131.1 610.7,1134.0 619.8,1137.0 629.3,1140.3 639.0,1143.7 649.5,1147.5 660.9,1151.7 672.8,1156.1 684.6,1160.4 695.8,1164.6 705.8,1168.2 714.6,1171.4 722.7,1174.3 730.1,1177.0 737.1,1179.4 743.8,1181.7 750.3,1183.8 756.8,1185.8 763.1,1187.6 769.1,1189.2 774.6,1190.6 779.6,1191.8 783.7,1192.7 786.8,1193.3 788.9,1193.5 790.3,1193.6 791.5,1193.4 792.9,1193.1 794.8,1192.7 797.2,1192.3 799.9,1191.7 802.8,1191.0 805.6,1190.2 808.4,1189.2 811.0,1188.0 813.4,1186.5 815.8,1184.8 818.0,1182.9 820.2,1180.9 822.2,1178.9 824.0,1177.0 825.7,1175.0 827.3,1172.9 828.8,1170.8 830.1,1168.9 831.2,1167.2 832.0,1166.0 L850,1130 L900,1000 L860,970 L819,935 Z"/>
<path fill="none" stroke="#111" stroke-width="1.2" d="M786,1157 C789,1162 790.4,1168.2 790.4,1170 C791.5,1176 792.6,1182 792.6,1186"/>
<path fill="#c6c6c6" stroke="#555" stroke-width="1.2" d="M819.3,935.6 L820.3,936.2 821.7,937.0 823.3,938.0 825.2,939.0 827.5,939.8 830.2,940.4 833.5,940.7 837.5,940.9 841.8,941.0 846.2,940.9 850.3,940.7 853.9,940.4 856.9,939.9 859.6,939.1 862.1,938.3 864.4,937.4 866.6,936.6 868.9,936.1 870.8,935.7 872.3,935.4 873.7,935.2 875.5,935.2 878.1,935.5 881.8,936.1 887.4,937.2 894.7,938.7 902.7,940.5 910.7,942.5 917.6,944.3 922.6,945.8 925.4,946.9 926.8,947.6 927.1,948.3 926.9,949.1 926.7,950.3 927.0,952.2 928.1,954.7 929.7,957.7 931.3,961.1 932.4,964.9 932.6,969.1 931.2,973.7 927.7,979.3 922.3,986.0 915.9,993.2 909.4,1000.0 903.8,1005.9 900.0,1010.0 L820.0,1130.0 794.8,1148.2 772.6,1148.2 752.5,1146.0 754.8,1141.5 750.3,1137.0 705.8,1134.8 679.0,1131.5 L681.8,1127.5 685.7,1123.8 690.3,1119.3 695.4,1114.3 700.6,1109.0 705.8,1103.6 711.0,1098.0 716.4,1091.9 722.1,1085.5 727.8,1079.0 733.6,1072.4 739.2,1065.8 744.9,1059.1 750.7,1052.1 756.6,1045.1 762.3,1038.2 767.7,1031.6 772.6,1025.7 777.0,1020.6 781.0,1016.1 784.7,1011.9 788.1,1007.9 791.5,1003.7 794.8,999.0 798.1,993.8 801.5,988.2 804.7,982.5 807.7,976.7 810.3,971.0 812.6,965.6 814.4,960.1 815.9,954.2 817.1,948.5 818.0,943.3 818.7,938.8 819.3,935.6 Z"/>
<path fill="none" stroke="#808080" stroke-width="1" stroke-dasharray="3 2" d="M810.9,974.8 L843.1,983.4 M740,1103.7 L752.9,1105.9 M719,1100 L740,1103.7"/>
<path fill="#fff" stroke="#111" stroke-width="2.5" stroke-linejoin="round" d="M705.8,965.6 L706.0,963.3 706.3,960.2 706.6,956.4 707.0,952.5 707.5,948.8 708.0,945.6 708.6,942.9 709.2,940.5 709.8,938.2 710.6,936.1 711.5,934.1 712.5,932.3 713.7,930.6 715.0,929.0 716.4,927.5 717.9,926.2 719.6,925.2 721.4,924.5 723.3,924.1 725.4,924.0 727.6,924.1 729.9,924.5 732.3,925.0 734.7,925.6 737.2,926.4 739.9,927.5 742.6,928.8 745.3,930.1 747.9,931.3 750.3,932.3 752.5,933.1 754.7,933.8 756.8,934.4 758.7,934.9 760.2,935.3 761.4,935.6 L740,950 Z"/>
<path fill="none" stroke="#111" stroke-width="2" d="M714.7,930 C720,940 726,948 732.5,954.5"/>
<path fill="#fff" stroke="none" d="M570.0,1043.5 L570.4,1042.6 570.8,1041.4 571.3,1039.9 572.0,1038.2 573.1,1036.4 574.5,1034.6 576.5,1032.6 578.9,1030.4 581.7,1028.1 584.6,1025.7 587.4,1023.4 590.0,1021.3 592.4,1019.2 594.9,1017.1 597.3,1015.0 599.5,1013.1 601.6,1011.5 603.4,1010.2 605.0,1009.4 606.6,1009.1 607.9,1009.0 608.9,1009.0 609.7,1009.1 610.0,1009.0 609.3,1008.9 607.6,1008.9 605.5,1008.8 603.8,1008.7 603.2,1008.5 604.5,1008.0 608.2,1007.2 613.8,1006.1 620.6,1004.9 627.6,1003.6 634.0,1002.4 639.0,1001.3 642.6,1000.4 645.5,999.6 647.9,998.9 649.7,998.2 651.2,997.5 652.4,996.8 652.8,996.2 652.2,995.7 651.3,995.2 650.6,994.6 650.8,993.7 652.4,992.3 655.6,990.4 660.0,988.0 665.2,985.3 671.0,982.5 677.2,979.6 683.5,976.8 690.3,974.0 697.8,971.0 705.6,968.1 713.5,965.1 721.1,962.4 728.0,960.0 734.6,957.9 741.1,956.0 747.3,954.3 753.0,952.7 757.8,951.3 761.4,950.0 763.7,948.8 764.8,947.8 765.1,947.0 764.8,946.2 764.2,945.4 763.7,944.5 762.8,943.5 761.3,942.5 759.5,941.5 757.9,940.5 756.9,939.6 757.0,938.9 757.9,938.3 759.4,937.9 761.5,937.5 764.3,937.2 767.9,937.0 772.6,936.7 779.1,936.4 787.6,936.2 796.9,936.0 806.0,935.8 813.9,935.7 819.3,935.6 L818.7,938.8 818.0,943.3 817.1,948.5 815.9,954.2 814.4,960.1 812.6,965.6 810.3,971.0 807.7,976.7 804.7,982.5 801.5,988.2 798.1,993.8 794.8,999.0 791.5,1003.7 788.1,1007.9 784.7,1011.9 781.0,1016.1 777.0,1020.6 772.6,1025.7 767.7,1031.6 762.3,1038.2 756.6,1045.1 750.7,1052.1 744.9,1059.1 739.2,1065.8 733.6,1072.4 727.8,1079.0 722.1,1085.5 716.4,1091.9 711.0,1098.0 705.8,1103.6 700.6,1109.0 695.4,1114.3 690.3,1119.3 685.7,1123.8 681.8,1127.5 679.0,1130.3 L676.9,1130.3 674.0,1128.2 670.2,1125.2 665.5,1121.7 660.4,1117.9 655.2,1114.0 650.0,1110.3 644.9,1106.7 639.7,1103.1 634.2,1099.4 628.6,1095.7 622.8,1091.9 616.8,1088.0 610.1,1083.9 602.7,1079.4 595.0,1075.0 587.8,1070.7 581.5,1066.8 576.7,1063.6 573.7,1061.2 572.1,1059.6 571.4,1058.3 571.3,1057.3 571.3,1056.1 571.0,1054.7 570.5,1052.8 570.3,1050.7 570.1,1048.5 570.1,1046.5 570.1,1044.7 570.0,1043.5 Z"/>
<path fill="none" stroke="#111" stroke-width="2.2" d="M679.0,1130.3 L681.8,1127.5 685.7,1123.8 690.3,1119.3 695.4,1114.3 700.6,1109.0 705.8,1103.6 711.0,1098.0 716.4,1091.9 722.1,1085.5 727.8,1079.0 733.6,1072.4 739.2,1065.8 744.9,1059.1 750.7,1052.1 756.6,1045.1 762.3,1038.2 767.7,1031.6 772.6,1025.7 777.0,1020.6 781.0,1016.1 784.7,1011.9 788.1,1007.9 791.5,1003.7 794.8,999.0 798.1,993.8 801.5,988.2 804.7,982.5 807.7,976.7 810.3,971.0 812.6,965.6 814.4,960.1 815.9,954.2 817.1,948.5 818.0,943.3 818.7,938.8 819.3,935.6"/>
<g fill="none" stroke-linejoin="round">
<path stroke="#111" stroke-width="1.6" d="M570.0,1043.5 L570.4,1042.6 570.8,1041.4 571.3,1039.9 572.0,1038.2 573.1,1036.4 574.5,1034.6 576.5,1032.6 578.9,1030.4 581.7,1028.1 584.6,1025.7 587.4,1023.4 590.0,1021.3 592.4,1019.2 594.9,1017.1 597.3,1015.0 599.5,1013.1 601.6,1011.5 603.4,1010.2 605.0,1009.4 606.6,1009.1 607.9,1009.0 608.9,1009.0 609.7,1009.1 610.0,1009.0 609.3,1008.9 607.6,1008.9 605.5,1008.8 603.8,1008.7 603.2,1008.5 604.5,1008.0 608.2,1007.2 613.8,1006.1 620.6,1004.9 627.6,1003.6 634.0,1002.4 639.0,1001.3 642.6,1000.4 645.5,999.6 647.9,998.9 649.7,998.2 651.2,997.5 652.4,996.8 652.8,996.2 652.2,995.7 651.3,995.2 650.6,994.6 650.8,993.7 652.4,992.3 655.6,990.4 660.0,988.0 665.2,985.3 671.0,982.5 677.2,979.6 683.5,976.8 690.3,974.0 697.8,971.0 705.6,968.1 713.5,965.1 721.1,962.4 728.0,960.0 734.6,957.9 741.1,956.0 747.3,954.3 753.0,952.7 757.8,951.3 761.4,950.0 763.7,948.8 764.8,947.8 765.1,947.0 764.8,946.2 764.2,945.4 763.7,944.5 762.8,943.5 761.3,942.5 759.5,941.5 757.9,940.5 756.9,939.6 757.0,938.9 757.9,938.3 759.4,937.9 761.5,937.5 764.3,937.2 767.9,937.0 772.6,936.7 779.1,936.4 787.6,936.2 796.9,936.0 806.0,935.8 813.9,935.7 819.3,935.6"/>
<path stroke="#111" stroke-width="3.6" stroke-dasharray="0.9 0.9" d="M570.0,1043.5 L570.4,1042.6 570.8,1041.4 571.3,1039.9 572.0,1038.2 573.1,1036.4 574.5,1034.6 576.5,1032.6 578.9,1030.4 581.7,1028.1 584.6,1025.7 587.4,1023.4 590.0,1021.3 592.4,1019.2 594.9,1017.1 597.3,1015.0 599.5,1013.1 601.6,1011.5 603.4,1010.2 605.0,1009.4 606.6,1009.1 607.9,1009.0 608.9,1009.0 609.7,1009.1 610.0,1009.0 609.3,1008.9 607.6,1008.9 605.5,1008.8 603.8,1008.7 603.2,1008.5 604.5,1008.0 608.2,1007.2 613.8,1006.1 620.6,1004.9 627.6,1003.6 634.0,1002.4 639.0,1001.3 642.6,1000.4 645.5,999.6 647.9,998.9 649.7,998.2 651.2,997.5 652.4,996.8 652.8,996.2 652.2,995.7 651.3,995.2 650.6,994.6 650.8,993.7 652.4,992.3 655.6,990.4 660.0,988.0 665.2,985.3 671.0,982.5 677.2,979.6 683.5,976.8 690.3,974.0 697.8,971.0 705.6,968.1 713.5,965.1 721.1,962.4 728.0,960.0 734.6,957.9 741.1,956.0 747.3,954.3 753.0,952.7 757.8,951.3 761.4,950.0 763.7,948.8 764.8,947.8 765.1,947.0 764.8,946.2 764.2,945.4 763.7,944.5 762.8,943.5 761.3,942.5 759.5,941.5 757.9,940.5 756.9,939.6 757.0,938.9 757.9,938.3 759.4,937.9 761.5,937.5 764.3,937.2 767.9,937.0 772.6,936.7 779.1,936.4 787.6,936.2 796.9,936.0 806.0,935.8 813.9,935.7 819.3,935.6"/>
<path stroke="#111" stroke-width="1.1" d="M676.9,1130.3 L674.0,1128.2 670.2,1125.2 665.5,1121.7 660.4,1117.9 655.2,1114.0 650.0,1110.3 644.9,1106.7 639.7,1103.1 634.2,1099.4 628.6,1095.7 622.8,1091.9 616.8,1088.0 610.1,1083.9 602.7,1079.4 595.0,1075.0 587.8,1070.7 581.5,1066.8 576.7,1063.6 573.7,1061.2 572.1,1059.6 571.4,1058.3 571.3,1057.3 571.3,1056.1 571.0,1054.7 570.5,1052.8 570.3,1050.7 570.1,1048.5 570.1,1046.5 570.1,1044.7 570.0,1043.5"/>
<path stroke="#111" stroke-width="2.8" stroke-dasharray="0.9 0.9" d="M676.9,1130.3 L674.0,1128.2 670.2,1125.2 665.5,1121.7 660.4,1117.9 655.2,1114.0 650.0,1110.3 644.9,1106.7 639.7,1103.1 634.2,1099.4 628.6,1095.7 622.8,1091.9 616.8,1088.0 610.1,1083.9 602.7,1079.4 595.0,1075.0 587.8,1070.7 581.5,1066.8 576.7,1063.6 573.7,1061.2 572.1,1059.6 571.4,1058.3 571.3,1057.3 571.3,1056.1 571.0,1054.7 570.5,1052.8 570.3,1050.7 570.1,1048.5 570.1,1046.5 570.1,1044.7 570.0,1043.5"/>
</g>
<g fill="none" stroke="#333" stroke-width="1">
<path d="M795,943 C800,946 802,950 798,953 C795,955 797,958 801,959 M790,959 L804,961 L796,966 Z"/>
<path d="M803,966 C797,976 791,986 786,996 C787,998 791,995 793,991 C797,983 801,974 805,968"/>
</g>
<g fill="#fff" stroke="#444" stroke-width="0.9">
<rect x="666" y="1124" width="4" height="10" rx="1.5" transform="rotate(-35 668 1129)"/>
<rect x="684" y="1131" width="4" height="10" rx="1.5" transform="rotate(-35 686 1136)"/>
</g>
<!-- box -->
<path fill="#fff" stroke="#111" stroke-width="2.4" stroke-linejoin="round" d="M754,1109.1 C768,1114 785,1120 804.5,1126.3 C840,1139 870,1146 903.3,1154.2 L903.3,1190.7 C880,1180 860,1172 847.4,1165 C830,1158 815,1152 804.5,1147.8 C785,1140 768,1130 755,1119.8 Z"/>
<path fill="#fff" stroke="#111" stroke-width="2.4" stroke-linejoin="round" d="M1009.7,988.8 L1009,1018.4 C975,1075 935,1140 903.3,1190.7 L903.3,1154.2 C930,1108 960,1060 982.3,1021 C992,1004 1000,993 1009.7,988.8 Z"/>
<path fill="#fff" stroke="#111" stroke-width="2.4" stroke-linejoin="round" d="M857.1,965.1 L1009.7,988.8 C1000,993 992,1004 982.3,1021 C960,1060 930,1108 903.3,1154.2 C870,1146 840,1139 804.5,1126.3 C785,1120 768,1114 754,1109.1 Z"/>
<g fill="none" stroke="#333" stroke-width="0.9">
<path d="M757,1114 C760,1116 762,1120 760,1123 M766,1118 C772,1120 776,1124 780,1128 C782,1130 781,1133 784,1134"/>
</g>
<path fill="#fff" stroke="#555" stroke-width="0.8" d="M902,1143 C904,1145 905,1148 904,1152 C902,1153 901,1150 901,1147 Z"/>
<!-- arrow -->
<path fill="#0c0c0c" stroke="#fff" stroke-width="2" d="M773.3,1027.4 L810.9,1014.5 L800.2,1027.4 L852.8,1045.7 L845.3,1061.8 L792.6,1046.8 L776.5,1061.8 Z"/>
<text x="865.2" y="1066.7" textLength="60.2" lengthAdjust="spacingAndGlyphs" font-family="Liberation Sans, sans-serif" font-weight="bold" font-size="21.5" fill="#0c0c0c" stroke="#0c0c0c" stroke-width="0.7">STEP 1</text>
</g>
<g id="p6">
<path fill="#fff" stroke="#111" stroke-width="2.5" stroke-linejoin="round" d="M1069.4,995.6 L1068.7,995.8 1067.8,996.0 1066.6,996.3 1065.4,996.8 1064.0,997.7 1062.7,999.0 1061.2,1000.9 1059.6,1003.4 1057.9,1006.2 1056.2,1009.1 1054.8,1012.1 1053.6,1014.9 1052.7,1017.5 1052.0,1020.1 1051.5,1022.7 1051.1,1025.3 1051.1,1027.9 1051.3,1030.7 1051.9,1033.7 1052.7,1036.9 1053.8,1040.2 1055.2,1043.4 1056.6,1046.4 1058.1,1048.9 1059.7,1051.0 1061.4,1052.7 1063.2,1054.3 1065.1,1055.6 1067.2,1056.8 1069.4,1057.9 1071.4,1058.7 1073.3,1059.1 1075.2,1059.4 1077.7,1059.9 1080.9,1060.8 1085.3,1062.4 1090.9,1064.8 1097.4,1067.7 1104.7,1071.0 1112.7,1074.7 1121.4,1078.7 1130.6,1082.8 1140.9,1087.3 1152.4,1092.5 1164.6,1097.8 1176.8,1103.1 1188.3,1108.1 1198.6,1112.3 1207.8,1115.8 1216.4,1118.9 1224.3,1121.6 1231.6,1124.0 1238.2,1126.1 1243.9,1128.1 1248.5,1129.9 1252.0,1131.4 1254.7,1132.6 1257.1,1133.6 1259.6,1134.4 1262.6,1134.9 1266.2,1135.1 1269.9,1135.0 1273.7,1134.7 1277.6,1134.1 1281.5,1133.4 1285.3,1132.7 1289.3,1131.8 1293.7,1130.5 1298.1,1129.2 1302.1,1127.8 1305.5,1126.7 1308.0,1125.9 L1307.8,1124.8 1307.9,1124.1 1308.0,1123.4 1308.3,1122.8 1308.5,1122.2 1308.8,1121.6 1309.1,1121.1 1309.4,1120.6 1309.8,1120.1 1310.2,1119.6 1310.6,1119.2 1311.0,1118.8 1311.5,1118.4 1312.0,1118.1 1312.5,1117.7 1313.1,1117.4 1313.7,1117.2 1314.3,1116.9 1314.9,1116.7 1315.6,1116.6 1316.5,1116.6 1316.8,1116.1 1316.9,1115.3 1317.0,1114.6 1317.2,1113.9 1317.5,1113.3 1317.7,1112.7 1318.0,1112.2 1318.3,1111.6 1318.7,1111.1 1319.0,1110.6 1319.4,1110.2 1319.8,1109.7 1320.2,1109.3 1320.7,1108.9 1321.2,1108.5 1321.7,1108.2 1322.2,1107.8 1322.7,1107.5 1323.3,1107.2 1323.9,1107.0 1324.5,1106.7 1325.1,1106.5 1325.8,1106.4 1326.6,1106.3 1327.3,1106.1 1327.5,1105.5 1327.8,1105.0 1328.1,1104.4 1328.4,1103.9 1328.8,1103.4 1329.1,1102.9 1329.5,1102.4 1329.8,1101.9 1330.2,1101.4 1330.6,1101.0 1331.0,1100.5 1331.3,1100.1 1331.7,1099.6 1332.1,1099.2 1332.6,1098.8 1333.0,1098.3 1333.4,1097.9 1333.8,1097.5 1334.3,1097.1 1334.8,1096.7 1335.2,1096.3 1335.7,1096.0 1336.2,1095.6 1336.7,1095.2 1337.2,1094.9 1337.8,1094.6 1338.3,1094.3 1339.0,1094.1 1339.2,1093.4 1339.0,1092.4 1339.1,1091.5 1339.3,1090.7 1339.5,1090.1 1339.8,1089.4 1340.2,1088.9 1340.6,1088.4 1341.1,1088.0 1341.6,1087.6 1342.2,1087.3 1342.8,1087.1 1343.4,1086.9 1344.1,1086.8 1344.9,1086.8 1345.7,1086.9 1346.6,1087.2 1347.4,1087.3 1347.7,1086.6 1348.0,1086.0 1348.4,1085.5 1348.8,1085.0 1349.2,1084.5 1349.6,1084.1 1350.0,1083.7 1350.5,1083.3 1351.0,1082.9 1351.4,1082.5 1351.9,1082.2 1352.4,1081.9 1353.0,1081.6 1353.5,1081.3 1354.0,1081.0 1354.6,1080.8 1355.2,1080.6 1355.8,1080.4 1356.4,1080.3 1357.0,1080.1 1357.8,1080.1 1358.2,1079.7 1358.5,1079.1 1358.9,1078.5 1359.2,1078.0 1359.6,1077.5 1360.0,1077.0 1360.4,1076.5 1360.8,1076.1 1361.2,1075.6 1361.7,1075.2 1362.1,1074.8 1362.5,1074.4 1362.9,1074.0 1363.3,1073.6 1363.7,1073.2 1364.1,1072.8 1364.5,1072.5 1364.9,1072.1 1365.3,1071.7 1365.7,1071.3 1366.0,1071.0 1366.4,1070.6 1366.8,1070.2 1367.2,1069.9 1367.6,1069.5 1368.0,1069.1 1368.4,1068.7 1368.7,1068.3 1369.2,1067.9 1369.6,1067.5 1370.0,1067.0 1370.4,1066.6 1370.9,1066.2 1371.3,1065.8 1371.8,1065.4 1372.4,1065.0 1373.2,1064.7 1372.9,1064.0 1372.9,1063.3 1372.9,1062.6 1373.0,1062.0 1373.1,1061.4 1373.2,1060.7 1373.4,1060.1 1373.5,1059.5 1373.7,1058.9 1373.9,1058.3 1374.1,1057.8 1374.3,1057.2 1374.6,1056.6 1374.8,1056.0 1375.2,1055.4 1375.5,1054.9 1375.8,1054.3 1376.2,1053.8 1376.6,1053.3 1377.0,1052.8 1377.4,1052.3 1377.9,1051.8 1378.4,1051.4 1378.8,1051.0 1379.3,1050.6 1379.8,1050.2 1380.4,1049.8 1380.9,1049.5 1381.4,1049.2 1382.0,1048.9 1382.6,1048.6 1383.2,1048.3 1383.9,1048.2 1384.3,1047.7 1384.4,1047.1 1384.6,1046.5 1384.8,1045.9 1385.1,1045.4 1385.3,1044.8 1385.5,1044.3 1385.7,1043.7 1385.9,1043.2 1386.2,1042.7 1386.4,1042.1 1386.7,1041.6 1386.9,1041.1 1387.2,1040.6 1387.4,1040.0 1387.7,1039.5 1388.0,1039.0 1388.3,1038.5 1388.6,1038.0 1388.9,1037.5 1389.2,1037.0 1389.5,1036.5 1389.9,1036.0 1390.2,1035.5 1390.6,1035.0 1391.0,1034.5 1391.4,1034.0 1391.8,1033.6 1392.3,1033.1 1392.7,1032.7 1392.3,1031.8 1392.1,1031.1 1392.1,1030.3 1392.0,1029.7 1392.0,1029.0 1392.1,1028.3 1392.2,1027.7 1392.3,1027.1 1392.5,1026.4 1392.6,1025.8 1392.8,1025.2 1393.1,1024.6 1393.4,1024.0 1393.7,1023.5 1394.0,1022.9 1394.4,1022.4 1394.7,1021.9 1395.1,1021.4 1395.6,1020.9 1396.0,1020.5 1396.5,1020.0 1397.0,1019.6 1397.5,1019.2 1398.1,1018.9 1398.6,1018.5 1399.2,1018.2 1399.9,1017.9 1400.6,1017.7 1401.5,1017.6 1401.6,1016.9 1401.5,1016.1 1401.5,1015.4 1401.6,1014.8 1401.7,1014.1 1401.8,1013.5 1401.9,1012.9 1402.1,1012.3 1402.2,1011.8 1402.4,1011.2 1402.6,1010.7 1402.9,1010.2 1403.1,1009.7 1403.3,1009.2 1403.6,1008.7 1403.9,1008.2 1404.2,1007.7 1404.6,1007.3 1404.9,1006.8 1405.3,1006.3 1405.8,1005.9 1406.2,1005.4 1406.7,1005.0 1407.2,1004.6 1407.8,1004.2 1408.4,1003.8 1409.2,1003.5 1409.6,1003.0 1409.7,1002.4 1409.8,1001.8 1409.9,1001.1 1410.1,1000.5 1410.2,999.9 1410.5,999.3 1410.7,998.8 1410.9,998.2 1411.2,997.6 1411.5,997.1 1411.7,996.5 1412.1,996.0 1412.4,995.5 1412.7,994.9 1413.0,994.5 1413.4,994.0 1413.8,993.5 1414.1,993.0 1414.5,992.5 1414.9,992.1 1415.3,991.6 1415.7,991.2 1416.2,990.7 1416.6,990.3 1417.0,989.9 1417.5,989.5 1418.0,989.1 1418.5,988.7 1419.0,988.3 1419.1,987.7 1419.1,987.0 1419.1,986.3 1419.2,985.7 1419.3,985.0 1419.4,984.4 1419.6,983.8 1419.7,983.3 1419.9,982.7 1420.1,982.1 1420.2,981.5 1420.4,981.0 1420.7,980.4 1420.9,979.9 1421.1,979.4 1421.4,978.9 1421.6,978.3 1421.9,977.8 1422.2,977.3 1422.5,976.8 1422.8,976.3 1423.2,975.8 1423.5,975.3 1423.9,974.8 1424.3,974.3 1424.7,973.9 1425.1,973.4 1425.5,973.0 1426.0,972.5 1426.5,972.1 1427.1,971.7 1427.8,971.4 1428.0,970.8 1428.1,970.1 1428.1,969.5 1428.2,968.9 1428.4,968.3 1428.5,967.7 1428.7,967.1 1428.9,966.6 1429.1,966.0 1429.3,965.4 1429.6,964.9 1429.8,964.3 1430.1,963.8 1430.4,963.3 1430.7,962.8 1431.0,962.3 1431.3,961.8 1431.7,961.3 1432.1,960.8 1432.5,960.3 1432.9,959.8 1433.4,959.4 1434.0,959.0 1433.7,958.2 1433.6,957.6 1433.6,956.9 1433.6,956.3 1433.7,955.6 1433.8,955.0 1433.8,954.4 1433.9,953.9 1434.0,953.3 1434.1,952.7 1434.2,952.1 1434.3,951.6 1434.5,951.0 1434.6,950.5 1434.7,949.9 1434.8,949.4 1434.9,948.9 1435.0,948.4 1435.1,947.8 1435.3,947.3 1435.4,946.8 1435.5,946.2 1435.7,945.7 1435.8,945.1 1435.9,944.5 1436.1,944.0 1436.3,943.4 1436.5,942.8 1436.7,942.2 1436.9,941.6 1437.2,941.0 1437.5,940.5 1437.9,939.9 1438.4,939.3 1437.7,938.6 1437.3,937.9 1437.0,937.2 1436.9,936.5 1436.8,935.7 1436.7,935.0 1436.8,934.2 1436.9,933.5 1437.0,932.7 1437.3,932.0 1437.5,931.3 1437.9,930.6 1438.2,930.0 1438.6,929.4 1439.0,928.9 1439.4,928.4 1439.8,927.9 1440.2,927.5 1440.6,927.1 1441.0,926.7 1441.4,926.3 1441.8,926.0 1442.2,925.7 1442.6,925.4 1443.0,925.1 1443.4,924.8 1443.8,924.5 1444.3,924.1 1444.8,923.7 1445.4,923.2 1446.3,922.8 1445.5,922.1 1445.1,921.5 1444.8,920.9 1444.5,920.3 1444.2,919.8 1444.0,919.2 1443.8,918.6 1443.6,918.1 1443.4,917.5 1443.2,917.0 1443.1,916.4 1443.0,915.8 1442.9,915.3 1442.8,914.7 1442.7,914.1 1442.7,913.5 1442.6,912.9 1442.7,912.3 1442.7,911.7 1442.7,911.1 1442.8,910.5 1442.9,909.9 1443.0,909.3 1443.2,908.7 1443.4,908.0 1443.6,907.4 1443.8,906.8 1444.1,906.2 1444.5,905.6 1444.9,904.9 1445.7,904.3 1444.8,903.7 1444.2,903.2 1443.8,902.6 1443.4,902.1 1443.0,901.5 1442.7,900.9 1442.5,900.4 1442.3,899.8 1442.1,899.3 1441.9,898.7 1441.8,898.1 1441.7,897.6 1441.6,897.0 1441.6,896.4 1441.6,895.8 1441.6,895.3 1441.7,894.7 1441.7,894.1 1441.9,893.5 1442.0,892.9 1442.2,892.3 1442.4,891.6 1442.7,890.9 1443.2,890.2 1443.0,889.7 1442.2,889.3 1441.5,888.9 1441.0,888.5 1440.4,888.1 1440.0,887.7 1439.5,887.3 1439.1,886.8 1438.8,886.3 1438.4,885.9 1438.1,885.4 1437.8,884.9 1437.5,884.4 1437.3,883.8 1437.1,883.3 1436.9,882.7 1436.8,882.2 1436.6,881.5 1436.6,880.9 1436.5,880.3 1436.5,879.7 1436.5,879.0 1436.5,878.3 1436.6,877.6 1436.9,876.8 1437.4,875.9 1437.0,875.4 1436.6,874.9 L1432.4,873.2 1425.9,871.4 1418.2,869.4 1410.2,867.3 1402.6,865.5 1396.3,864.3 1391.1,863.7 1386.2,863.5 1381.9,863.5 1377.9,863.8 1374.5,864.1 1371.4,864.3 1369.2,864.6 1367.8,865.0 1366.9,865.4 1365.9,865.8 1364.5,866.2 1362.3,866.5 1358.9,866.7 1354.7,866.8 1350.0,866.9 1345.3,866.9 1341.0,866.8 1337.4,866.5 1335.0,866.0 1333.3,865.2 1332.1,864.2 1330.8,863.3 1328.9,862.5 1326.0,862.0 1321.6,861.7 1316.1,861.5 1310.1,861.5 1304.0,861.6 1298.6,861.8 1294.4,862.0 1292.0,862.5 1291.0,863.4 1290.7,864.4 1290.2,865.2 1288.7,865.7 1285.3,865.4 1279.5,864.3 1271.6,862.4 1262.8,860.1 1254.0,857.7 1246.0,855.6 1240.0,854.0 1236.0,852.9 1233.4,852.1 1231.7,851.4 1230.5,851.0 1229.4,850.8 1228.0,850.7 1226.3,850.8 1224.7,851.1 1223.2,851.6 1221.7,852.2 1220.3,853.0 1219.0,854.0 1217.7,855.0 1216.5,855.9 1215.3,857.1 1214.1,858.5 1213.1,860.5 1212.1,863.1 1211.2,866.7 1210.4,871.2 1209.7,876.1 1209.0,881.2 1208.3,886.1 1207.6,890.3 1206.9,893.9 1206.2,897.3 1205.5,900.3 1204.8,903.2 1204.0,905.9 1203.1,908.4 1202.2,910.6 1201.3,912.3 1200.4,913.9 1199.3,915.5 1198.0,917.4 1196.3,919.7 1194.2,922.5 1191.7,925.7 1188.9,929.2 1186.0,932.8 1183.1,936.5 1180.4,940.1 1178.7,943.6 1178.1,947.1 1177.5,950.7 1175.7,954.4 1171.8,958.4 1164.6,962.8 1152.2,968.1 1135.2,974.2 1116.0,980.6 1097.0,986.7 1080.7,991.9 1069.4,995.6 Z"/>
<path fill="none" stroke="#111" stroke-width="2.2" d="M1219.0,858.6 L1220.9,860.6 1223.6,863.5 1226.8,866.9 1230.0,870.5 1232.8,873.9 1234.8,876.7 1236.1,878.8 1237.0,880.5 1237.6,882.1 1237.8,883.6 1237.6,885.5 1237.0,888.0 1235.9,891.1 1234.3,894.6 1232.3,898.5 1230.1,902.5 1227.9,906.7 1225.7,910.7 1223.5,914.8 1221.3,919.1 1218.9,923.4 1216.5,927.7 1214.3,931.8 1212.1,935.6 1210.0,939.2 1207.7,942.8 1205.6,946.2 1203.6,949.3 1202.0,951.8 1200.8,953.7"/>
<path fill="none" stroke="#111" stroke-width="2" d="M1200.8,953.7 L1197.5,954.4 1193.6,955.2 1188.6,956.2 1182.4,957.7 1174.5,959.8 1164.6,962.8 1151.0,967.3 1133.7,973.2 1114.7,979.8 1096.3,986.2 1080.4,991.8 1069.4,995.6"/>
<path fill="none" stroke="#111" stroke-width="1.8" d="M1069.4,996.8 L1073.7,999.5 1079.6,1003.3 1086.6,1007.8 1094.0,1012.6 1101.4,1017.4 1108.0,1021.7 1114.0,1025.7 1120.0,1029.7 1125.9,1033.7 1131.5,1037.5 1136.9,1041.1 1142.0,1044.3 1146.6,1047.1 1150.7,1049.4 1154.5,1051.5 1158.4,1053.5 1162.4,1055.6 1166.8,1057.9 1171.7,1060.6 1176.9,1063.6 1182.3,1066.7 1187.8,1069.6 1193.2,1072.0 1198.6,1073.8 1203.9,1074.7 1209.3,1075.0 1214.7,1074.9 1220.0,1074.5 1225.1,1074.2 1230.0,1074.0 1234.8,1074.0 1239.6,1074.0 1244.3,1074.1 1248.6,1074.0 1252.3,1074.0 1255.2,1073.8 1257.2,1073.4 1258.5,1072.8 1259.2,1072.1 1259.5,1071.5 1259.6,1071.2 1259.7,1071.5 1259.2,1072.4 1257.8,1073.8 1256.2,1075.6 1255.1,1077.4 1255.3,1079.2 1257.4,1080.6 1262.1,1082.0 1268.9,1083.5 1276.9,1084.9 1285.4,1086.0 1293.3,1086.5 1300.0,1086.2 1305.3,1084.9 1310.0,1082.8 1314.2,1080.2 1318.2,1077.2 1322.0,1074.3 1326.0,1071.5 1330.1,1068.9 1334.3,1066.2 1338.4,1063.5 1342.3,1060.8 1345.7,1058.1 1348.7,1055.6 1351.0,1053.3 1352.7,1051.1 1354.1,1048.9 1355.3,1046.8 1356.4,1044.5 1357.8,1042.0 1359.2,1039.5 1360.4,1037.1 1361.6,1034.6 1363.0,1031.7 1364.6,1028.2 1366.8,1024.0 1369.5,1018.7 1372.7,1012.6 1376.1,1005.8 1379.8,998.9 1383.5,991.9 1387.2,985.4 1390.9,979.2 1394.9,973.0 1398.8,966.9 1402.8,960.8 1406.5,954.9 1409.9,949.2 1413.0,943.7 1415.9,938.6 1418.7,933.5 1421.2,928.4 1423.5,923.1 1425.7,917.5 1427.7,911.0 1429.6,903.7 1431.2,896.3 1432.7,889.2 1433.9,883.3 1434.8,879.0"/>
<path fill="none" stroke="#888" stroke-width="0.8" transform="translate(-2.5,-1.5)" d="M1300.0,1086.2 L1302.9,1084.6 1306.9,1082.4 1311.6,1079.8 1316.6,1077.0 1321.6,1074.2 1326.0,1071.5 1330.1,1068.9 1334.3,1066.2 1338.4,1063.5 1342.3,1060.8 1345.7,1058.1 1348.7,1055.6 1351.0,1053.3 1352.7,1051.1 1354.1,1048.9 1355.3,1046.8 1356.4,1044.5 1357.8,1042.0 1359.2,1039.5 1360.4,1037.1 1361.6,1034.6 1363.0,1031.7 1364.6,1028.2 1366.8,1024.0 1369.5,1018.7 1372.7,1012.6 1376.1,1005.8 1379.8,998.9 1383.5,991.9 1387.2,985.4 1390.9,979.2 1394.9,973.0 1398.8,966.9 1402.8,960.8 1406.5,954.9 1409.9,949.2 1413.0,943.7 1415.9,938.6 1418.7,933.5 1421.2,928.4 1423.5,923.1 1425.7,917.5 1427.7,911.0 1429.6,903.7 1431.2,896.3 1432.7,889.2 1433.9,883.3 1434.8,879.0"/>
<path fill="none" stroke="#111" stroke-width="1.1" d="M1291.4,1094.2 L1291.9,1095.4 1292.7,1097.0 1293.6,1099.0 1294.5,1101.1 1295.3,1103.1 1296.0,1105.0 1296.5,1106.7 1296.9,1108.4 1297.2,1110.1 1297.4,1111.8 1297.7,1113.4 1298.0,1115.0 1298.4,1116.6 1298.7,1118.3 1299.1,1119.9 1299.5,1121.4 1299.8,1122.7 1300.0,1123.6"/>
<g fill="none" stroke="#111" stroke-width="1">
<path d="M1255.2,898.2 C1245,920 1230,950 1216.7,986.6 C1225,985 1240,960 1255,930 C1262,918 1270,910 1278,903"/><path d="M1305.7,890.3 C1300,905 1290,920 1280.8,931 C1282,934 1290,925 1298,912"/><path d="M1305.7,932.2 C1285,938 1262,950 1240,967.3 C1225,975 1215,985 1210,992"/>
<path d="M1300,868 C1306,870 1309,874 1306,878 C1302,880 1304,883 1308,884 M1296,884 L1310,886 L1302,890 Z"/>
</g>
<g fill="#fff" stroke="#444" stroke-width="0.9">
<rect x="1167" y="1060" width="4" height="10" rx="1.5" transform="rotate(-35 1169 1065)"/>
<rect x="1185" y="1067" width="4" height="10" rx="1.5" transform="rotate(-35 1187 1072)"/>
</g>
<!-- small sofa -->
<g stroke="#111" stroke-width="1.8" fill="#fff" stroke-linejoin="round">
<path d="M1276,1176.4 C1279,1166 1284,1158.8 1284,1158.8 C1287,1152 1290,1148 1298.4,1142.8 C1330,1141 1360,1140.5 1381.6,1140.4 L1404,1140.9 C1425,1141 1445,1141.5 1455.2,1142 C1462,1143 1466,1146 1468,1150 C1472,1158 1476,1168 1480.8,1176.4 L1480,1208 L1270,1208 Z"/>
<path d="M1269.6,1208.4 C1268,1220 1269,1230 1272,1232.4 L1488,1233.2 C1491,1230 1491,1220 1490.4,1208.4 Z"/>
<path d="M1269.6,1206.8 L1269.6,1189.2 C1270,1183 1272,1179 1276,1178 C1280,1175.5 1284,1174.8 1288.8,1174.8 C1294,1175 1299,1177 1301.6,1179.6 C1305,1183 1306.4,1186 1306.4,1189.2 L1306.4,1206.8 Z"/>
<path d="M1454.4,1206.8 L1455.2,1187.6 C1456,1182 1460,1178 1464.8,1176.4 C1470,1175 1476,1175 1480.8,1176.4 C1486,1178 1490,1182 1490.4,1186 L1490.4,1208.4 Z"/>
</g>
<g fill="none" stroke="#111" stroke-width="1.1">
<path d="M1301.6,1146 C1307,1148 1312,1152 1312.8,1155.6 C1314,1160 1314.4,1164 1314.4,1166.8"/>
<path d="M1456.8,1146 C1452,1148 1449,1152 1448,1155.6 C1447,1160 1446.4,1164 1446.4,1166.8"/>
<path d="M1271.5,1190 C1272,1184 1275,1180 1280,1179" stroke="#888" stroke-width="0.8"/>
</g>
<defs><clipPath id="c6q"><path d="M1311.2,1168.4 C1340,1167 1370,1166 1388,1166 C1410,1166 1430,1167 1445.6,1168.4 L1454.4,1206.8 L1306.4,1206.8 Z"/></clipPath>
<pattern id="q6" patternUnits="userSpaceOnUse" width="9.6" height="9.6" patternTransform="rotate(45)"><path d="M0,0 H9.6 M0,0 V9.6" stroke="#888" stroke-width="0.9" fill="none"/></pattern></defs>
<path fill="#fff" stroke="#111" stroke-width="1.3" d="M1311.2,1168.4 C1340,1167 1370,1166 1388,1166 C1410,1166 1430,1167 1445.6,1168.4 L1454.4,1206.8 L1306.4,1206.8 Z"/>
<rect x="1300" y="1160" width="160" height="50" fill="url(#q6)" clip-path="url(#c6q)"/>
<path fill="none" stroke="#111" stroke-width="1.3" d="M1311.2,1168.4 C1340,1167 1370,1166 1388,1166 C1410,1166 1430,1167 1445.6,1168.4 L1454.4,1206.8 M1306.4,1206.8 L1311.2,1168.4"/>
<rect x="1369.6" y="1213.2" width="20.8" height="13.6" rx="3" fill="#fff" stroke="#777" stroke-width="0.9"/>
<path fill="none" stroke="#333" stroke-width="0.9" d="M1375,1224 L1377,1218 L1380,1216 L1382,1219 L1385,1224 M1373,1225 H1387"/>
<!-- curved arrow -->
<g fill="#1c212c" stroke="#fff" stroke-width="2.5" paint-order="stroke">
<path d="M1322.7,1038.1 L1325.5,1039.1 L1329.2,1040.5 L1333.6,1042.1 L1338.5,1043.9 L1343.5,1045.9 L1348.4,1048.0 L1352.7,1050.1 L1356.4,1052.2 L1359.4,1054.3 L1362.2,1056.6 L1364.7,1059.0 L1367.1,1061.5 L1369.3,1064.1 L1371.3,1066.7 L1373.3,1069.3 L1375.1,1071.9 L1376.8,1074.5 L1378.4,1077.1 L1379.8,1079.7 L1381.1,1082.4 L1382.3,1085.1 L1383.3,1087.8 L1384.3,1090.5 L1385.2,1093.1 L1386.0,1095.7 L1386.7,1098.4 L1387.2,1101.2 L1387.7,1104.0 L1388.1,1106.8 L1388.5,1109.2 L1388.8,1111.4 L1389.1,1113.0 L1399.9,1111.0 L1399.6,1109.4 L1399.2,1107.4 L1398.7,1104.9 L1398.1,1102.1 L1397.4,1099.0 L1396.6,1095.9 L1395.7,1092.7 L1394.6,1089.7 L1393.4,1086.9 L1392.1,1084.1 L1390.7,1081.2 L1389.1,1078.3 L1387.5,1075.4 L1385.6,1072.6 L1383.6,1069.8 L1381.5,1067.1 L1379.2,1064.5 L1376.9,1061.9 L1374.4,1059.4 L1371.7,1056.8 L1368.8,1054.4 L1365.8,1052.1 L1362.4,1049.9 L1358.8,1047.8 L1354.7,1045.9 L1349.9,1044.1 L1344.7,1042.5 L1339.5,1040.9 L1334.5,1039.6 L1329.9,1038.4 L1326.1,1037.3 L1323.3,1036.5 Z"/>
<path d="M1370.3,1117.3 Q1387,1126 1392.2,1158.2 L1410.6,1109.3 Z"/>
</g>
<path fill="#1c212c" d="M1322.7,1038.1 L1325.5,1039.1 L1329.2,1040.5 L1333.6,1042.1 L1338.5,1043.9 L1343.5,1045.9 L1348.4,1048.0 L1352.7,1050.1 L1356.4,1052.2 L1359.4,1054.3 L1362.2,1056.6 L1364.7,1059.0 L1367.1,1061.5 L1369.3,1064.1 L1371.3,1066.7 L1373.3,1069.3 L1375.1,1071.9 L1376.8,1074.5 L1378.4,1077.1 L1379.8,1079.7 L1381.1,1082.4 L1382.3,1085.1 L1383.3,1087.8 L1384.3,1090.5 L1385.2,1093.1 L1386.0,1095.7 L1386.7,1098.4 L1387.2,1101.2 L1387.7,1104.0 L1388.1,1106.8 L1388.5,1109.2 L1388.8,1111.4 L1389.1,1113.0 L1399.9,1111.0 L1399.6,1109.4 L1399.2,1107.4 L1398.7,1104.9 L1398.1,1102.1 L1397.4,1099.0 L1396.6,1095.9 L1395.7,1092.7 L1394.6,1089.7 L1393.4,1086.9 L1392.1,1084.1 L1390.7,1081.2 L1389.1,1078.3 L1387.5,1075.4 L1385.6,1072.6 L1383.6,1069.8 L1381.5,1067.1 L1379.2,1064.5 L1376.9,1061.9 L1374.4,1059.4 L1371.7,1056.8 L1368.8,1054.4 L1365.8,1052.1 L1362.4,1049.9 L1358.8,1047.8 L1354.7,1045.9 L1349.9,1044.1 L1344.7,1042.5 L1339.5,1040.9 L1334.5,1039.6 L1329.9,1038.4 L1326.1,1037.3 L1323.3,1036.5 Z"/>
<use href="#insetB" x="1065.8" y="1113.9"/>
</g>
<!--/PANELS-->
</svg>
</body></html>
